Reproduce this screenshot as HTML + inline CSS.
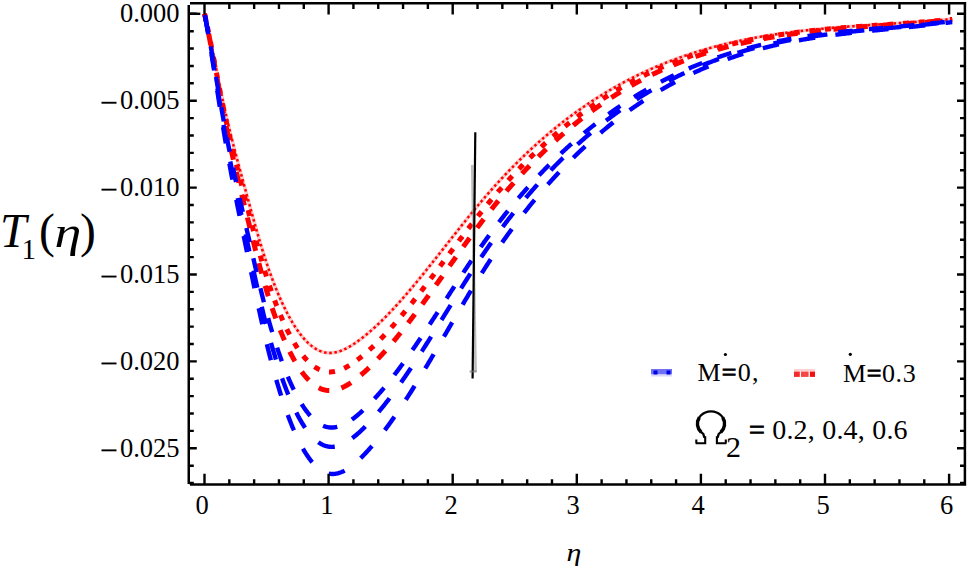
<!DOCTYPE html>
<html><head><meta charset="utf-8"><style>
html,body{margin:0;padding:0;background:#fff;}
svg{display:block;}
.t{font-family:"Liberation Serif",serif;font-size:26.5px;fill:#000;}
.s{font-family:"Liberation Serif",serif;fill:#000;}
</style></head><body>
<svg width="968" height="570" viewBox="0 0 968 570">
<rect width="968" height="570" fill="#fff"/>
<defs><filter id="bl" x="-5%" y="-5%" width="110%" height="110%"><feGaussianBlur stdDeviation="0.45"/></filter></defs>
<g id="curves" filter="url(#bl)">
<path d="M204.50,13.80 205.12,16.10 205.74,18.76 206.36,21.48 206.98,24.23 207.60,27.03 208.22,29.87 208.84,32.74 209.46,35.64 210.08,38.58 210.71,41.54 211.33,44.53 211.95,47.54 212.57,50.56 213.19,53.60 213.81,56.65 214.43,59.71 215.05,62.78 215.67,65.85 216.29,68.92 216.91,71.99 217.53,75.05 218.15,78.10 218.77,81.14 219.39,84.17 220.01,87.17 220.63,90.16 221.25,93.12 221.87,96.06 222.49,98.96 223.12,101.84 223.74,104.67 224.36,107.48 224.98,110.25 225.60,112.99 226.22,115.69 226.84,118.37 227.46,121.02 228.08,123.64 228.70,126.24 229.32,128.80 229.94,131.35 230.56,133.87 231.18,136.37 231.80,138.84 232.42,141.30 233.04,143.73 233.66,146.15 234.28,148.55 234.90,150.94 235.53,153.30 236.15,155.66 236.77,158.00 237.39,160.33 238.01,162.65 238.63,164.96 239.25,167.26 239.87,169.55 240.49,171.83 241.11,174.11 241.73,176.39 242.35,178.66 242.97,180.93 243.59,183.19 244.21,185.46 244.83,187.73 245.45,189.99 246.07,192.27 246.69,194.54 247.31,196.81 247.94,199.08 248.56,201.36 249.18,203.63 249.80,205.90 250.42,208.16 251.04,210.42 251.66,212.67 252.28,214.92 252.90,217.16 253.52,219.40 254.14,221.62 254.76,223.83 255.38,226.04 256.00,228.23 256.62,230.41 257.24,232.57 257.86,234.72 258.48,236.86 259.10,238.98 259.72,241.08 260.35,243.16 260.97,245.23 261.59,247.27 262.21,249.30 262.83,251.30 263.45,253.28 264.07,255.24 264.69,257.17 265.31,259.08 265.93,260.97 266.55,262.83 267.17,264.67 267.79,266.49 268.41,268.29 269.03,270.06 269.65,271.82 270.27,273.55 270.89,275.26 271.51,276.95 272.13,278.62 272.75,280.26 273.38,281.89 274.00,283.50 274.62,285.08 275.24,286.65 275.86,288.20 276.48,289.72 277.10,291.23 277.72,292.72 278.34,294.19 278.96,295.64 279.58,297.07 280.20,298.49 280.82,299.88 281.44,301.25 282.06,302.61 282.68,303.95 283.30,305.26 283.92,306.56 284.54,307.84 285.16,309.11 285.79,310.35 286.41,311.57 287.03,312.78 287.65,313.97 288.27,315.14 288.89,316.29 289.51,317.42 290.13,318.53 290.75,319.63 291.37,320.70 291.99,321.76 292.61,322.80 293.23,323.82 293.85,324.83 294.47,325.81 295.09,326.78 295.71,327.73 296.33,328.66 296.95,329.57 297.57,330.46 298.20,331.34 298.82,332.20 299.44,333.04 300.06,333.86 300.68,334.67 301.30,335.45 301.92,336.22 302.54,336.97 303.16,337.71 303.78,338.42 304.40,339.12 305.02,339.80 305.64,340.46 306.26,341.11 306.88,341.73 307.50,342.34 308.12,342.94 308.74,343.51 309.36,344.07 309.99,344.61 310.61,345.13 311.23,345.64 311.85,346.12 312.47,346.60 313.09,347.05 313.71,347.49 314.33,347.90 314.95,348.31 315.57,348.69 316.19,349.06 316.81,349.41 317.43,349.74 318.05,350.06 318.67,350.36 319.29,350.64 319.91,350.91 320.53,351.16 321.15,351.39 321.77,351.61 322.39,351.81 323.02,351.99 323.64,352.15 324.26,352.30 324.88,352.43 325.50,352.55 326.12,352.65 326.74,352.73 327.36,352.80 327.98,352.85 328.60,352.89 329.22,352.91 329.84,352.92 330.46,352.91 331.08,352.89 331.70,352.85 332.32,352.80 332.94,352.74 333.56,352.66 334.18,352.57 334.81,352.47 335.43,352.35 336.05,352.22 336.67,352.08 337.29,351.92 337.91,351.75 338.53,351.57 339.15,351.38 339.77,351.18 340.39,350.97 341.01,350.74 341.63,350.51 342.25,350.26 342.87,350.00 343.49,349.74 344.11,349.46 344.73,349.17 345.35,348.88 345.97,348.57 346.59,348.25 347.22,347.93 347.84,347.60 348.46,347.26 349.08,346.91 349.70,346.55 350.32,346.18 350.94,345.81 351.56,345.43 352.18,345.04 352.80,344.65 353.42,344.24 354.04,343.83 354.66,343.42 355.28,343.00 355.90,342.57 356.52,342.14 357.14,341.70 357.76,341.25 358.38,340.81 359.00,340.35 359.62,339.89 360.25,339.43 360.87,338.96 361.49,338.49 362.11,338.01 362.73,337.53 363.35,337.04 363.97,336.55 364.59,336.05 365.21,335.55 365.83,335.05 366.45,334.54 367.07,334.03 367.69,333.51 368.31,332.99 368.93,332.46 369.55,331.93 370.17,331.40 370.79,330.86 371.41,330.32 372.03,329.77 372.66,329.22 373.28,328.67 373.90,328.11 374.52,327.55 375.14,326.98 375.76,326.41 376.38,325.84 377.00,325.26 377.62,324.68 378.24,324.09 378.86,323.50 379.48,322.91 380.10,322.31 380.72,321.71 381.34,321.11 381.96,320.50 382.58,319.89 383.20,319.28 383.82,318.66 384.44,318.04 385.07,317.42 385.69,316.79 386.31,316.16 386.93,315.53 387.55,314.89 388.17,314.25 388.79,313.60 389.41,312.96 390.03,312.31 390.65,311.66 391.27,311.00 391.89,310.34 392.51,309.68 393.13,309.02 393.75,308.35 394.37,307.68 394.99,307.01 395.61,306.33 396.23,305.65 396.86,304.97 397.48,304.29 398.10,303.60 398.72,302.91 399.34,302.22 399.96,301.52 400.58,300.83 401.20,300.13 401.82,299.43 402.44,298.72 403.06,298.02 403.68,297.31 404.30,296.60 404.92,295.88 405.54,295.17 406.16,294.45 406.78,293.73 407.40,293.01 408.02,292.28 408.64,291.56 409.26,290.83 409.89,290.10 410.51,289.37 411.13,288.63 411.75,287.90 412.37,287.16 412.99,286.42 413.61,285.68 414.23,284.93 414.85,284.19 415.47,283.44 416.09,282.69 416.71,281.94 417.33,281.19 417.95,280.44 418.57,279.68 419.19,278.93 419.81,278.17 420.43,277.41 421.05,276.65 421.67,275.89 422.30,275.13 422.92,274.36 423.54,273.60 424.16,272.83 424.78,272.06 425.40,271.29 426.02,270.52 426.64,269.75 427.26,268.98 427.88,268.20 428.50,267.43 429.12,266.65 429.74,265.88 430.36,265.10 430.98,264.32 431.60,263.54 432.22,262.76 432.84,261.98 433.46,261.20 434.09,260.42 434.71,259.63 435.33,258.85 435.95,258.07 436.57,257.28 437.19,256.50 437.81,255.71 438.43,254.93 439.05,254.14 439.67,253.35 440.29,252.57 440.91,251.78 441.53,250.99 442.15,250.20 442.77,249.42 443.39,248.63 444.01,247.84 444.63,247.05 445.25,246.26 445.87,245.47 446.50,244.69 447.12,243.90 447.74,243.11 448.36,242.32 448.98,241.53 449.60,240.74 450.22,239.96 450.84,239.17 451.46,238.38 452.08,237.59 452.70,236.81 453.32,236.02 453.94,235.23 454.56,234.45 455.18,233.66 455.80,232.88 456.42,232.09 457.04,231.31 457.66,230.53 458.28,229.74 458.90,228.96 459.53,228.18 460.15,227.40 460.77,226.62 461.39,225.84 462.01,225.06 462.63,224.29 463.25,223.51 463.87,222.74 464.49,221.96 465.11,221.19 465.73,220.42 466.35,219.65 466.97,218.88 467.59,218.11 468.21,217.34 468.83,216.57 469.45,215.81 470.07,215.04 470.69,214.28 471.31,213.52 471.94,212.76 472.56,212.00 473.18,211.24 473.80,210.49 474.42,209.73 475.04,208.98 475.66,208.23 476.28,207.48 476.90,206.73 477.52,205.99 478.14,205.24 478.76,204.50 479.38,203.76 480.00,203.02 480.62,202.28 481.24,201.55 481.86,200.81 482.48,200.08 483.10,199.35 483.72,198.62 484.35,197.90 484.97,197.17 485.59,196.45 486.21,195.73 486.83,195.02 487.45,194.30 488.07,193.59 488.69,192.88 489.31,192.17 489.93,191.46 490.55,190.76 491.17,190.06 491.79,189.36 492.41,188.66 493.03,187.96 493.65,187.27 494.27,186.58 494.89,185.89 495.51,185.20 496.13,184.51 496.76,183.83 497.38,183.15 498.00,182.47 498.62,181.79 499.24,181.11 499.86,180.44 500.48,179.77 501.10,179.10 501.72,178.43 502.34,177.77 502.96,177.10 503.58,176.44 504.20,175.78 504.82,175.12 505.44,174.47 506.06,173.82 506.68,173.16 507.30,172.52 507.92,171.87 508.55,171.22 509.17,170.58 509.79,169.94 510.41,169.30 511.03,168.66 511.65,168.03 512.27,167.39 512.89,166.76 513.51,166.13 514.13,165.50 514.75,164.88 515.37,164.25 515.99,163.63 516.61,163.01 517.23,162.40 517.85,161.78 518.47,161.17 519.09,160.55 519.71,159.94 520.33,159.34 520.96,158.73 521.58,158.12 522.20,157.52 522.82,156.92 523.44,156.32 524.06,155.73 524.68,155.13 525.30,154.54 525.92,153.95 526.54,153.36 527.16,152.77 527.78,152.19 528.40,151.60 529.02,151.02 529.64,150.44 530.26,149.87 530.88,149.29 531.50,148.72 532.12,148.14 532.74,147.57 533.37,147.00 533.99,146.44 534.61,145.87 535.23,145.31 535.85,144.75 536.47,144.19 537.09,143.63 537.71,143.08 538.33,142.52 538.95,141.97 539.57,141.42 540.19,140.87 540.81,140.33 541.43,139.78 542.05,139.24 542.67,138.70 543.29,138.16 543.91,137.62 544.53,137.09 545.15,136.55 545.77,136.02 546.40,135.49 547.02,134.96 547.64,134.44 548.26,133.91 548.88,133.39 549.50,132.87 550.12,132.35 550.74,131.83 551.36,131.32 551.98,130.80 552.60,130.29 553.22,129.78 553.84,129.27 554.46,128.76 555.08,128.26 555.70,127.75 556.32,127.25 556.94,126.75 557.56,126.25 558.18,125.76 558.81,125.26 559.43,124.77 560.05,124.28 560.67,123.79 561.29,123.30 561.91,122.81 562.53,122.33 563.15,121.85 563.77,121.36 564.39,120.88 565.01,120.41 565.63,119.93 566.25,119.46 566.87,118.98 567.49,118.51 568.11,118.04 568.73,117.57 569.35,117.11 569.97,116.64 570.60,116.18 571.22,115.72 571.84,115.26 572.46,114.80 573.08,114.35 573.70,113.89 574.32,113.44 574.94,112.99 575.56,112.54 576.18,112.09 576.80,111.64 577.42,111.20 578.04,110.75 578.66,110.31 579.28,109.87 579.90,109.43 580.52,109.00 581.14,108.56 581.76,108.13 582.38,107.70 583.00,107.27 583.63,106.84 584.25,106.41 584.87,105.98 585.49,105.56 586.11,105.14 586.73,104.72 587.35,104.30 587.97,103.88 588.59,103.46 589.21,103.05 589.83,102.64 590.45,102.23 591.07,101.82 591.69,101.41 592.31,101.00 592.93,100.59 593.55,100.19 594.17,99.79 594.79,99.39 595.41,98.99 596.04,98.59 596.66,98.19 597.28,97.80 597.90,97.41 598.52,97.02 599.14,96.63 599.76,96.24 600.38,95.85 601.00,95.46 601.62,95.08 602.24,94.70 602.86,94.32 603.48,93.94 604.10,93.56 604.72,93.18 605.34,92.81 605.96,92.43 606.58,92.06 607.20,91.69 607.83,91.32 608.45,90.95 609.07,90.59 609.69,90.22 610.31,89.86 610.93,89.50 611.55,89.13 612.17,88.78 612.79,88.42 613.41,88.06 614.03,87.71 614.65,87.35 615.27,87.00 615.89,86.65 616.51,86.30 617.13,85.95 617.75,85.61 618.37,85.26 618.99,84.92 619.61,84.58 620.24,84.24 620.86,83.90 621.48,83.56 622.10,83.22 622.72,82.89 623.34,82.55 623.96,82.22 624.58,81.89 625.20,81.56 625.82,81.23 626.44,80.90 627.06,80.58 627.68,80.25 628.30,79.93 628.92,79.61 629.54,79.29 630.16,78.97 630.78,78.65 631.40,78.34 632.02,78.02 632.64,77.71 633.27,77.40 633.89,77.09 634.51,76.78 635.13,76.47 635.75,76.16 636.37,75.86 636.99,75.55 637.61,75.25 638.23,74.95 638.85,74.65 639.47,74.35 640.09,74.05 640.71,73.75 641.33,73.46 641.95,73.16 642.57,72.87 643.19,72.58 643.81,72.29 644.43,72.00 645.06,71.71 645.68,71.43 646.30,71.14 646.92,70.86 647.54,70.58 648.16,70.30 648.78,70.02 649.40,69.74 650.02,69.46 650.64,69.18 651.26,68.91 651.88,68.63 652.50,68.36 653.12,68.09 653.74,67.82 654.36,67.55 654.98,67.28 655.60,67.02 656.22,66.75 656.84,66.49 657.46,66.22 658.09,65.96 658.71,65.70 659.33,65.44 659.95,65.18 660.57,64.93 661.19,64.67 661.81,64.42 662.43,64.16 663.05,63.91 663.67,63.66 664.29,63.41 664.91,63.16 665.53,62.92 666.15,62.67 666.77,62.42 667.39,62.18 668.01,61.94 668.63,61.70 669.25,61.45 669.88,61.21 670.50,60.98 671.12,60.74 671.74,60.50 672.36,60.27 672.98,60.03 673.60,59.80 674.22,59.57 674.84,59.34 675.46,59.11 676.08,58.88 676.70,58.65 677.32,58.43 677.94,58.20 678.56,57.98 679.18,57.76 679.80,57.54 680.42,57.31 681.04,57.10 681.66,56.88 682.28,56.66 682.91,56.44 683.53,56.23 684.15,56.01 684.77,55.80 685.39,55.59 686.01,55.38 686.63,55.17 687.25,54.96 687.87,54.75 688.49,54.54 689.11,54.34 689.73,54.13 690.35,53.93 690.97,53.73 691.59,53.53 692.21,53.32 692.83,53.12 693.45,52.93 694.07,52.73 694.69,52.53 695.32,52.34 695.94,52.14 696.56,51.95 697.18,51.76 697.80,51.56 698.42,51.37 699.04,51.18 699.66,50.99 700.28,50.81 700.90,50.62 701.52,50.43 702.14,50.25 702.76,50.07 703.38,49.88 704.00,49.70 704.62,49.52 705.24,49.34 705.86,49.16 706.48,48.98 707.11,48.81 707.73,48.63 708.35,48.45 708.97,48.28 709.59,48.11 710.21,47.93 710.83,47.76 711.45,47.59 712.07,47.42 712.69,47.25 713.31,47.09 713.93,46.92 714.55,46.75 715.17,46.59 715.79,46.42 716.41,46.26 717.03,46.10 717.65,45.94 718.27,45.78 718.89,45.62 719.51,45.46 720.14,45.30 720.76,45.14 721.38,44.99 722.00,44.83 722.62,44.68 723.24,44.52 723.86,44.37 724.48,44.22 725.10,44.07 725.72,43.92 726.34,43.77 726.96,43.62 727.58,43.47 728.20,43.32 728.82,43.18 729.44,43.03 730.06,42.89 730.68,42.74 731.30,42.60 731.92,42.46 732.55,42.32 733.17,42.18 733.79,42.04 734.41,41.90 735.03,41.76 735.65,41.62 736.27,41.49 736.89,41.35 737.51,41.22 738.13,41.08 738.75,40.95 739.37,40.82 739.99,40.68 740.61,40.55 741.23,40.42 741.85,40.29 742.47,40.16 743.09,40.04 743.71,39.91 744.34,39.78 744.96,39.66 745.58,39.53 746.20,39.41 746.82,39.28 747.44,39.16 748.06,39.04 748.68,38.92 749.30,38.80 749.92,38.68 750.54,38.56 751.16,38.44 751.78,38.32 752.40,38.21 753.02,38.09 753.64,37.97 754.26,37.86 754.88,37.74 755.50,37.63 756.12,37.52 756.75,37.41 757.37,37.29 757.99,37.18 758.61,37.07 759.23,36.96 759.85,36.86 760.47,36.75 761.09,36.64 761.71,36.53 762.33,36.43 762.95,36.32 763.57,36.22 764.19,36.11 764.81,36.01 765.43,35.91 766.05,35.80 766.67,35.70 767.29,35.60 767.91,35.50 768.53,35.40 769.15,35.30 769.78,35.20 770.40,35.11 771.02,35.01 771.64,34.91 772.26,34.82 772.88,34.72 773.50,34.62 774.12,34.53 774.74,34.44 775.36,34.34 775.98,34.25 776.60,34.16 777.22,34.07 777.84,33.98 778.46,33.89 779.08,33.80 779.70,33.71 780.32,33.62 780.94,33.53 781.57,33.44 782.19,33.36 782.81,33.27 783.43,33.18 784.05,33.10 784.67,33.01 785.29,32.93 785.91,32.85 786.53,32.76 787.15,32.68 787.77,32.60 788.39,32.52 789.01,32.44 789.63,32.36 790.25,32.28 790.87,32.20 791.49,32.12 792.11,32.04 792.73,31.96 793.35,31.88 793.98,31.81 794.60,31.73 795.22,31.65 795.84,31.58 796.46,31.50 797.08,31.43 797.70,31.35 798.32,31.28 798.94,31.21 799.56,31.13 800.18,31.06 800.80,30.99 801.42,30.92 802.04,30.85 802.66,30.78 803.28,30.71 803.90,30.64 804.52,30.57 805.14,30.50 805.76,30.43 806.38,30.36 807.01,30.30 807.63,30.23 808.25,30.16 808.87,30.10 809.49,30.03 810.11,29.96 810.73,29.90 811.35,29.83 811.97,29.77 812.59,29.71 813.21,29.64 813.83,29.58 814.45,29.52 815.07,29.45 815.69,29.39 816.31,29.33 816.93,29.27 817.55,29.21 818.17,29.15 818.79,29.09 819.42,29.03 820.04,28.97 820.66,28.91 821.28,28.85 821.90,28.79 822.52,28.74 823.14,28.68 823.76,28.62 824.38,28.56 825.00,28.51 825.62,28.45 826.24,28.39 826.86,28.34 827.48,28.28 828.10,28.23 828.72,28.17 829.34,28.12 829.96,28.06 830.58,28.01 831.20,27.96 831.83,27.90 832.45,27.85 833.07,27.80 833.69,27.75 834.31,27.69 834.93,27.64 835.55,27.59 836.17,27.54 836.79,27.49 837.41,27.44 838.03,27.39 838.65,27.34 839.27,27.29 839.89,27.24 840.51,27.19 841.13,27.14 841.75,27.09 842.37,27.04 842.99,26.99 843.62,26.94 844.24,26.89 844.86,26.85 845.48,26.80 846.10,26.75 846.72,26.70 847.34,26.66 847.96,26.61 848.58,26.56 849.20,26.52 849.82,26.47 850.44,26.42 851.06,26.38 851.68,26.33 852.30,26.29 852.92,26.24 853.54,26.20 854.16,26.15 854.78,26.11 855.40,26.06 856.02,26.02 856.65,25.97 857.27,25.93 857.89,25.88 858.51,25.84 859.13,25.80 859.75,25.75 860.37,25.71 860.99,25.67 861.61,25.62 862.23,25.58 862.85,25.54 863.47,25.49 864.09,25.45 864.71,25.41 865.33,25.37 865.95,25.33 866.57,25.28 867.19,25.24 867.81,25.20 868.44,25.16 869.06,25.12 869.68,25.07 870.30,25.03 870.92,24.99 871.54,24.95 872.16,24.91 872.78,24.87 873.40,24.83 874.02,24.78 874.64,24.74 875.26,24.70 875.88,24.66 876.50,24.62 877.12,24.58 877.74,24.54 878.36,24.50 878.98,24.46 879.60,24.42 880.22,24.38 880.85,24.34 881.47,24.30 882.09,24.26 882.71,24.22 883.33,24.17 883.95,24.13 884.57,24.09 885.19,24.05 885.81,24.01 886.43,23.97 887.05,23.93 887.67,23.89 888.29,23.85 888.91,23.81 889.53,23.77 890.15,23.73 890.77,23.69 891.39,23.65 892.01,23.61 892.63,23.57 893.25,23.53 893.88,23.49 894.50,23.45 895.12,23.41 895.74,23.37 896.36,23.33 896.98,23.28 897.60,23.24 898.22,23.20 898.84,23.16 899.46,23.12 900.08,23.08 900.70,23.04 901.32,23.00 901.94,22.96 902.56,22.92 903.18,22.87 903.80,22.83 904.42,22.79 905.04,22.75 905.66,22.71 906.29,22.67 906.91,22.62 907.53,22.58 908.15,22.54 908.77,22.50 909.39,22.45 910.01,22.41 910.63,22.37 911.25,22.33 911.87,22.28 912.49,22.24 913.11,22.20 913.73,22.15 914.35,22.11 914.97,22.07 915.59,22.02 916.21,21.98 916.83,21.94 917.45,21.89 918.07,21.85 918.70,21.80 919.32,21.76 919.94,21.71 920.56,21.67 921.18,21.62 921.80,21.58 922.42,21.53 923.04,21.49 923.66,21.44 924.28,21.39 924.90,21.35 925.52,21.30 926.14,21.26 926.76,21.21 927.38,21.16 928.00,21.11 928.62,21.07 929.24,21.02 929.86,20.97 930.49,20.92 931.11,20.87 931.73,20.83 932.35,20.78 932.97,20.73 933.59,20.68 934.21,20.63 934.83,20.58 935.45,20.53 936.07,20.48 936.69,20.43 937.31,20.38 937.93,20.33 938.55,20.27 939.17,20.22 939.79,20.17 940.41,20.12 941.03,20.07 941.65,20.01 942.27,19.96 942.89,19.91 943.52,19.85 944.14,19.80 944.76,19.75 945.38,19.69 946.00,19.64 946.62,19.58 947.24,19.53 947.86,19.47 948.48,19.41 949.10,19.36 949.72,19.30 950.34,19.24 950.96,19.19 951.58,19.13 952.20,19.07" fill="none" stroke="#ff0000" stroke-opacity="0.22" stroke-width="3.6"/>
<path d="M204.50,13.80 205.12,16.10 205.74,18.76 206.36,21.48 206.98,24.23 207.60,27.03 208.22,29.87 208.84,32.74 209.46,35.64 210.08,38.58 210.71,41.54 211.33,44.53 211.95,47.54 212.57,50.56 213.19,53.60 213.81,56.65 214.43,59.71 215.05,62.78 215.67,65.85 216.29,68.92 216.91,71.99 217.53,75.05 218.15,78.10 218.77,81.14 219.39,84.17 220.01,87.17 220.63,90.16 221.25,93.12 221.87,96.06 222.49,98.96 223.12,101.84 223.74,104.67 224.36,107.48 224.98,110.25 225.60,112.99 226.22,115.69 226.84,118.37 227.46,121.02 228.08,123.64 228.70,126.24 229.32,128.80 229.94,131.35 230.56,133.87 231.18,136.37 231.80,138.84 232.42,141.30 233.04,143.73 233.66,146.15 234.28,148.55 234.90,150.94 235.53,153.30 236.15,155.66 236.77,158.00 237.39,160.33 238.01,162.65 238.63,164.96 239.25,167.26 239.87,169.55 240.49,171.83 241.11,174.11 241.73,176.39 242.35,178.66 242.97,180.93 243.59,183.19 244.21,185.46 244.83,187.73 245.45,189.99 246.07,192.27 246.69,194.54 247.31,196.81 247.94,199.08 248.56,201.36 249.18,203.63 249.80,205.90 250.42,208.16 251.04,210.42 251.66,212.67 252.28,214.92 252.90,217.16 253.52,219.40 254.14,221.62 254.76,223.83 255.38,226.04 256.00,228.23 256.62,230.41 257.24,232.57 257.86,234.72 258.48,236.86 259.10,238.98 259.72,241.08 260.35,243.16 260.97,245.23 261.59,247.27 262.21,249.30 262.83,251.30 263.45,253.28 264.07,255.24 264.69,257.17 265.31,259.08 265.93,260.97 266.55,262.83 267.17,264.67 267.79,266.49 268.41,268.29 269.03,270.06 269.65,271.82 270.27,273.55 270.89,275.26 271.51,276.95 272.13,278.62 272.75,280.26 273.38,281.89 274.00,283.50 274.62,285.08 275.24,286.65 275.86,288.20 276.48,289.72 277.10,291.23 277.72,292.72 278.34,294.19 278.96,295.64 279.58,297.07 280.20,298.49 280.82,299.88 281.44,301.25 282.06,302.61 282.68,303.95 283.30,305.26 283.92,306.56 284.54,307.84 285.16,309.11 285.79,310.35 286.41,311.57 287.03,312.78 287.65,313.97 288.27,315.14 288.89,316.29 289.51,317.42 290.13,318.53 290.75,319.63 291.37,320.70 291.99,321.76 292.61,322.80 293.23,323.82 293.85,324.83 294.47,325.81 295.09,326.78 295.71,327.73 296.33,328.66 296.95,329.57 297.57,330.46 298.20,331.34 298.82,332.20 299.44,333.04 300.06,333.86 300.68,334.67 301.30,335.45 301.92,336.22 302.54,336.97 303.16,337.71 303.78,338.42 304.40,339.12 305.02,339.80 305.64,340.46 306.26,341.11 306.88,341.73 307.50,342.34 308.12,342.94 308.74,343.51 309.36,344.07 309.99,344.61 310.61,345.13 311.23,345.64 311.85,346.12 312.47,346.60 313.09,347.05 313.71,347.49 314.33,347.90 314.95,348.31 315.57,348.69 316.19,349.06 316.81,349.41 317.43,349.74 318.05,350.06 318.67,350.36 319.29,350.64 319.91,350.91 320.53,351.16 321.15,351.39 321.77,351.61 322.39,351.81 323.02,351.99 323.64,352.15 324.26,352.30 324.88,352.43 325.50,352.55 326.12,352.65 326.74,352.73 327.36,352.80 327.98,352.85 328.60,352.89 329.22,352.91 329.84,352.92 330.46,352.91 331.08,352.89 331.70,352.85 332.32,352.80 332.94,352.74 333.56,352.66 334.18,352.57 334.81,352.47 335.43,352.35 336.05,352.22 336.67,352.08 337.29,351.92 337.91,351.75 338.53,351.57 339.15,351.38 339.77,351.18 340.39,350.97 341.01,350.74 341.63,350.51 342.25,350.26 342.87,350.00 343.49,349.74 344.11,349.46 344.73,349.17 345.35,348.88 345.97,348.57 346.59,348.25 347.22,347.93 347.84,347.60 348.46,347.26 349.08,346.91 349.70,346.55 350.32,346.18 350.94,345.81 351.56,345.43 352.18,345.04 352.80,344.65 353.42,344.24 354.04,343.83 354.66,343.42 355.28,343.00 355.90,342.57 356.52,342.14 357.14,341.70 357.76,341.25 358.38,340.81 359.00,340.35 359.62,339.89 360.25,339.43 360.87,338.96 361.49,338.49 362.11,338.01 362.73,337.53 363.35,337.04 363.97,336.55 364.59,336.05 365.21,335.55 365.83,335.05 366.45,334.54 367.07,334.03 367.69,333.51 368.31,332.99 368.93,332.46 369.55,331.93 370.17,331.40 370.79,330.86 371.41,330.32 372.03,329.77 372.66,329.22 373.28,328.67 373.90,328.11 374.52,327.55 375.14,326.98 375.76,326.41 376.38,325.84 377.00,325.26 377.62,324.68 378.24,324.09 378.86,323.50 379.48,322.91 380.10,322.31 380.72,321.71 381.34,321.11 381.96,320.50 382.58,319.89 383.20,319.28 383.82,318.66 384.44,318.04 385.07,317.42 385.69,316.79 386.31,316.16 386.93,315.53 387.55,314.89 388.17,314.25 388.79,313.60 389.41,312.96 390.03,312.31 390.65,311.66 391.27,311.00 391.89,310.34 392.51,309.68 393.13,309.02 393.75,308.35 394.37,307.68 394.99,307.01 395.61,306.33 396.23,305.65 396.86,304.97 397.48,304.29 398.10,303.60 398.72,302.91 399.34,302.22 399.96,301.52 400.58,300.83 401.20,300.13 401.82,299.43 402.44,298.72 403.06,298.02 403.68,297.31 404.30,296.60 404.92,295.88 405.54,295.17 406.16,294.45 406.78,293.73 407.40,293.01 408.02,292.28 408.64,291.56 409.26,290.83 409.89,290.10 410.51,289.37 411.13,288.63 411.75,287.90 412.37,287.16 412.99,286.42 413.61,285.68 414.23,284.93 414.85,284.19 415.47,283.44 416.09,282.69 416.71,281.94 417.33,281.19 417.95,280.44 418.57,279.68 419.19,278.93 419.81,278.17 420.43,277.41 421.05,276.65 421.67,275.89 422.30,275.13 422.92,274.36 423.54,273.60 424.16,272.83 424.78,272.06 425.40,271.29 426.02,270.52 426.64,269.75 427.26,268.98 427.88,268.20 428.50,267.43 429.12,266.65 429.74,265.88 430.36,265.10 430.98,264.32 431.60,263.54 432.22,262.76 432.84,261.98 433.46,261.20 434.09,260.42 434.71,259.63 435.33,258.85 435.95,258.07 436.57,257.28 437.19,256.50 437.81,255.71 438.43,254.93 439.05,254.14 439.67,253.35 440.29,252.57 440.91,251.78 441.53,250.99 442.15,250.20 442.77,249.42 443.39,248.63 444.01,247.84 444.63,247.05 445.25,246.26 445.87,245.47 446.50,244.69 447.12,243.90 447.74,243.11 448.36,242.32 448.98,241.53 449.60,240.74 450.22,239.96 450.84,239.17 451.46,238.38 452.08,237.59 452.70,236.81 453.32,236.02 453.94,235.23 454.56,234.45 455.18,233.66 455.80,232.88 456.42,232.09 457.04,231.31 457.66,230.53 458.28,229.74 458.90,228.96 459.53,228.18 460.15,227.40 460.77,226.62 461.39,225.84 462.01,225.06 462.63,224.29 463.25,223.51 463.87,222.74 464.49,221.96 465.11,221.19 465.73,220.42 466.35,219.65 466.97,218.88 467.59,218.11 468.21,217.34 468.83,216.57 469.45,215.81 470.07,215.04 470.69,214.28 471.31,213.52 471.94,212.76 472.56,212.00 473.18,211.24 473.80,210.49 474.42,209.73 475.04,208.98 475.66,208.23 476.28,207.48 476.90,206.73 477.52,205.99 478.14,205.24 478.76,204.50 479.38,203.76 480.00,203.02 480.62,202.28 481.24,201.55 481.86,200.81 482.48,200.08 483.10,199.35 483.72,198.62 484.35,197.90 484.97,197.17 485.59,196.45 486.21,195.73 486.83,195.02 487.45,194.30 488.07,193.59 488.69,192.88 489.31,192.17 489.93,191.46 490.55,190.76 491.17,190.06 491.79,189.36 492.41,188.66 493.03,187.96 493.65,187.27 494.27,186.58 494.89,185.89 495.51,185.20 496.13,184.51 496.76,183.83 497.38,183.15 498.00,182.47 498.62,181.79 499.24,181.11 499.86,180.44 500.48,179.77 501.10,179.10 501.72,178.43 502.34,177.77 502.96,177.10 503.58,176.44 504.20,175.78 504.82,175.12 505.44,174.47 506.06,173.82 506.68,173.16 507.30,172.52 507.92,171.87 508.55,171.22 509.17,170.58 509.79,169.94 510.41,169.30 511.03,168.66 511.65,168.03 512.27,167.39 512.89,166.76 513.51,166.13 514.13,165.50 514.75,164.88 515.37,164.25 515.99,163.63 516.61,163.01 517.23,162.40 517.85,161.78 518.47,161.17 519.09,160.55 519.71,159.94 520.33,159.34 520.96,158.73 521.58,158.12 522.20,157.52 522.82,156.92 523.44,156.32 524.06,155.73 524.68,155.13 525.30,154.54 525.92,153.95 526.54,153.36 527.16,152.77 527.78,152.19 528.40,151.60 529.02,151.02 529.64,150.44 530.26,149.87 530.88,149.29 531.50,148.72 532.12,148.14 532.74,147.57 533.37,147.00 533.99,146.44 534.61,145.87 535.23,145.31 535.85,144.75 536.47,144.19 537.09,143.63 537.71,143.08 538.33,142.52 538.95,141.97 539.57,141.42 540.19,140.87 540.81,140.33 541.43,139.78 542.05,139.24 542.67,138.70 543.29,138.16 543.91,137.62 544.53,137.09 545.15,136.55 545.77,136.02 546.40,135.49 547.02,134.96 547.64,134.44 548.26,133.91 548.88,133.39 549.50,132.87 550.12,132.35 550.74,131.83 551.36,131.32 551.98,130.80 552.60,130.29 553.22,129.78 553.84,129.27 554.46,128.76 555.08,128.26 555.70,127.75 556.32,127.25 556.94,126.75 557.56,126.25 558.18,125.76 558.81,125.26 559.43,124.77 560.05,124.28 560.67,123.79 561.29,123.30 561.91,122.81 562.53,122.33 563.15,121.85 563.77,121.36 564.39,120.88 565.01,120.41 565.63,119.93 566.25,119.46 566.87,118.98 567.49,118.51 568.11,118.04 568.73,117.57 569.35,117.11 569.97,116.64 570.60,116.18 571.22,115.72 571.84,115.26 572.46,114.80 573.08,114.35 573.70,113.89 574.32,113.44 574.94,112.99 575.56,112.54 576.18,112.09 576.80,111.64 577.42,111.20 578.04,110.75 578.66,110.31 579.28,109.87 579.90,109.43 580.52,109.00 581.14,108.56 581.76,108.13 582.38,107.70 583.00,107.27 583.63,106.84 584.25,106.41 584.87,105.98 585.49,105.56 586.11,105.14 586.73,104.72 587.35,104.30 587.97,103.88 588.59,103.46 589.21,103.05 589.83,102.64 590.45,102.23 591.07,101.82 591.69,101.41 592.31,101.00 592.93,100.59 593.55,100.19 594.17,99.79 594.79,99.39 595.41,98.99 596.04,98.59 596.66,98.19 597.28,97.80 597.90,97.41 598.52,97.02 599.14,96.63 599.76,96.24 600.38,95.85 601.00,95.46 601.62,95.08 602.24,94.70 602.86,94.32 603.48,93.94 604.10,93.56 604.72,93.18 605.34,92.81 605.96,92.43 606.58,92.06 607.20,91.69 607.83,91.32 608.45,90.95 609.07,90.59 609.69,90.22 610.31,89.86 610.93,89.50 611.55,89.13 612.17,88.78 612.79,88.42 613.41,88.06 614.03,87.71 614.65,87.35 615.27,87.00 615.89,86.65 616.51,86.30 617.13,85.95 617.75,85.61 618.37,85.26 618.99,84.92 619.61,84.58 620.24,84.24 620.86,83.90 621.48,83.56 622.10,83.22 622.72,82.89 623.34,82.55 623.96,82.22 624.58,81.89 625.20,81.56 625.82,81.23 626.44,80.90 627.06,80.58 627.68,80.25 628.30,79.93 628.92,79.61 629.54,79.29 630.16,78.97 630.78,78.65 631.40,78.34 632.02,78.02 632.64,77.71 633.27,77.40 633.89,77.09 634.51,76.78 635.13,76.47 635.75,76.16 636.37,75.86 636.99,75.55 637.61,75.25 638.23,74.95 638.85,74.65 639.47,74.35 640.09,74.05 640.71,73.75 641.33,73.46 641.95,73.16 642.57,72.87 643.19,72.58 643.81,72.29 644.43,72.00 645.06,71.71 645.68,71.43 646.30,71.14 646.92,70.86 647.54,70.58 648.16,70.30 648.78,70.02 649.40,69.74 650.02,69.46 650.64,69.18 651.26,68.91 651.88,68.63 652.50,68.36 653.12,68.09 653.74,67.82 654.36,67.55 654.98,67.28 655.60,67.02 656.22,66.75 656.84,66.49 657.46,66.22 658.09,65.96 658.71,65.70 659.33,65.44 659.95,65.18 660.57,64.93 661.19,64.67 661.81,64.42 662.43,64.16 663.05,63.91 663.67,63.66 664.29,63.41 664.91,63.16 665.53,62.92 666.15,62.67 666.77,62.42 667.39,62.18 668.01,61.94 668.63,61.70 669.25,61.45 669.88,61.21 670.50,60.98 671.12,60.74 671.74,60.50 672.36,60.27 672.98,60.03 673.60,59.80 674.22,59.57 674.84,59.34 675.46,59.11 676.08,58.88 676.70,58.65 677.32,58.43 677.94,58.20 678.56,57.98 679.18,57.76 679.80,57.54 680.42,57.31 681.04,57.10 681.66,56.88 682.28,56.66 682.91,56.44 683.53,56.23 684.15,56.01 684.77,55.80 685.39,55.59 686.01,55.38 686.63,55.17 687.25,54.96 687.87,54.75 688.49,54.54 689.11,54.34 689.73,54.13 690.35,53.93 690.97,53.73 691.59,53.53 692.21,53.32 692.83,53.12 693.45,52.93 694.07,52.73 694.69,52.53 695.32,52.34 695.94,52.14 696.56,51.95 697.18,51.76 697.80,51.56 698.42,51.37 699.04,51.18 699.66,50.99 700.28,50.81 700.90,50.62 701.52,50.43 702.14,50.25 702.76,50.07 703.38,49.88 704.00,49.70 704.62,49.52 705.24,49.34 705.86,49.16 706.48,48.98 707.11,48.81 707.73,48.63 708.35,48.45 708.97,48.28 709.59,48.11 710.21,47.93 710.83,47.76 711.45,47.59 712.07,47.42 712.69,47.25 713.31,47.09 713.93,46.92 714.55,46.75 715.17,46.59 715.79,46.42 716.41,46.26 717.03,46.10 717.65,45.94 718.27,45.78 718.89,45.62 719.51,45.46 720.14,45.30 720.76,45.14 721.38,44.99 722.00,44.83 722.62,44.68 723.24,44.52 723.86,44.37 724.48,44.22 725.10,44.07 725.72,43.92 726.34,43.77 726.96,43.62 727.58,43.47 728.20,43.32 728.82,43.18 729.44,43.03 730.06,42.89 730.68,42.74 731.30,42.60 731.92,42.46 732.55,42.32 733.17,42.18 733.79,42.04 734.41,41.90 735.03,41.76 735.65,41.62 736.27,41.49 736.89,41.35 737.51,41.22 738.13,41.08 738.75,40.95 739.37,40.82 739.99,40.68 740.61,40.55 741.23,40.42 741.85,40.29 742.47,40.16 743.09,40.04 743.71,39.91 744.34,39.78 744.96,39.66 745.58,39.53 746.20,39.41 746.82,39.28 747.44,39.16 748.06,39.04 748.68,38.92 749.30,38.80 749.92,38.68 750.54,38.56 751.16,38.44 751.78,38.32 752.40,38.21 753.02,38.09 753.64,37.97 754.26,37.86 754.88,37.74 755.50,37.63 756.12,37.52 756.75,37.41 757.37,37.29 757.99,37.18 758.61,37.07 759.23,36.96 759.85,36.86 760.47,36.75 761.09,36.64 761.71,36.53 762.33,36.43 762.95,36.32 763.57,36.22 764.19,36.11 764.81,36.01 765.43,35.91 766.05,35.80 766.67,35.70 767.29,35.60 767.91,35.50 768.53,35.40 769.15,35.30 769.78,35.20 770.40,35.11 771.02,35.01 771.64,34.91 772.26,34.82 772.88,34.72 773.50,34.62 774.12,34.53 774.74,34.44 775.36,34.34 775.98,34.25 776.60,34.16 777.22,34.07 777.84,33.98 778.46,33.89 779.08,33.80 779.70,33.71 780.32,33.62 780.94,33.53 781.57,33.44 782.19,33.36 782.81,33.27 783.43,33.18 784.05,33.10 784.67,33.01 785.29,32.93 785.91,32.85 786.53,32.76 787.15,32.68 787.77,32.60 788.39,32.52 789.01,32.44 789.63,32.36 790.25,32.28 790.87,32.20 791.49,32.12 792.11,32.04 792.73,31.96 793.35,31.88 793.98,31.81 794.60,31.73 795.22,31.65 795.84,31.58 796.46,31.50 797.08,31.43 797.70,31.35 798.32,31.28 798.94,31.21 799.56,31.13 800.18,31.06 800.80,30.99 801.42,30.92 802.04,30.85 802.66,30.78 803.28,30.71 803.90,30.64 804.52,30.57 805.14,30.50 805.76,30.43 806.38,30.36 807.01,30.30 807.63,30.23 808.25,30.16 808.87,30.10 809.49,30.03 810.11,29.96 810.73,29.90 811.35,29.83 811.97,29.77 812.59,29.71 813.21,29.64 813.83,29.58 814.45,29.52 815.07,29.45 815.69,29.39 816.31,29.33 816.93,29.27 817.55,29.21 818.17,29.15 818.79,29.09 819.42,29.03 820.04,28.97 820.66,28.91 821.28,28.85 821.90,28.79 822.52,28.74 823.14,28.68 823.76,28.62 824.38,28.56 825.00,28.51 825.62,28.45 826.24,28.39 826.86,28.34 827.48,28.28 828.10,28.23 828.72,28.17 829.34,28.12 829.96,28.06 830.58,28.01 831.20,27.96 831.83,27.90 832.45,27.85 833.07,27.80 833.69,27.75 834.31,27.69 834.93,27.64 835.55,27.59 836.17,27.54 836.79,27.49 837.41,27.44 838.03,27.39 838.65,27.34 839.27,27.29 839.89,27.24 840.51,27.19 841.13,27.14 841.75,27.09 842.37,27.04 842.99,26.99 843.62,26.94 844.24,26.89 844.86,26.85 845.48,26.80 846.10,26.75 846.72,26.70 847.34,26.66 847.96,26.61 848.58,26.56 849.20,26.52 849.82,26.47 850.44,26.42 851.06,26.38 851.68,26.33 852.30,26.29 852.92,26.24 853.54,26.20 854.16,26.15 854.78,26.11 855.40,26.06 856.02,26.02 856.65,25.97 857.27,25.93 857.89,25.88 858.51,25.84 859.13,25.80 859.75,25.75 860.37,25.71 860.99,25.67 861.61,25.62 862.23,25.58 862.85,25.54 863.47,25.49 864.09,25.45 864.71,25.41 865.33,25.37 865.95,25.33 866.57,25.28 867.19,25.24 867.81,25.20 868.44,25.16 869.06,25.12 869.68,25.07 870.30,25.03 870.92,24.99 871.54,24.95 872.16,24.91 872.78,24.87 873.40,24.83 874.02,24.78 874.64,24.74 875.26,24.70 875.88,24.66 876.50,24.62 877.12,24.58 877.74,24.54 878.36,24.50 878.98,24.46 879.60,24.42 880.22,24.38 880.85,24.34 881.47,24.30 882.09,24.26 882.71,24.22 883.33,24.17 883.95,24.13 884.57,24.09 885.19,24.05 885.81,24.01 886.43,23.97 887.05,23.93 887.67,23.89 888.29,23.85 888.91,23.81 889.53,23.77 890.15,23.73 890.77,23.69 891.39,23.65 892.01,23.61 892.63,23.57 893.25,23.53 893.88,23.49 894.50,23.45 895.12,23.41 895.74,23.37 896.36,23.33 896.98,23.28 897.60,23.24 898.22,23.20 898.84,23.16 899.46,23.12 900.08,23.08 900.70,23.04 901.32,23.00 901.94,22.96 902.56,22.92 903.18,22.87 903.80,22.83 904.42,22.79 905.04,22.75 905.66,22.71 906.29,22.67 906.91,22.62 907.53,22.58 908.15,22.54 908.77,22.50 909.39,22.45 910.01,22.41 910.63,22.37 911.25,22.33 911.87,22.28 912.49,22.24 913.11,22.20 913.73,22.15 914.35,22.11 914.97,22.07 915.59,22.02 916.21,21.98 916.83,21.94 917.45,21.89 918.07,21.85 918.70,21.80 919.32,21.76 919.94,21.71 920.56,21.67 921.18,21.62 921.80,21.58 922.42,21.53 923.04,21.49 923.66,21.44 924.28,21.39 924.90,21.35 925.52,21.30 926.14,21.26 926.76,21.21 927.38,21.16 928.00,21.11 928.62,21.07 929.24,21.02 929.86,20.97 930.49,20.92 931.11,20.87 931.73,20.83 932.35,20.78 932.97,20.73 933.59,20.68 934.21,20.63 934.83,20.58 935.45,20.53 936.07,20.48 936.69,20.43 937.31,20.38 937.93,20.33 938.55,20.27 939.17,20.22 939.79,20.17 940.41,20.12 941.03,20.07 941.65,20.01 942.27,19.96 942.89,19.91 943.52,19.85 944.14,19.80 944.76,19.75 945.38,19.69 946.00,19.64 946.62,19.58 947.24,19.53 947.86,19.47 948.48,19.41 949.10,19.36 949.72,19.30 950.34,19.24 950.96,19.19 951.58,19.13 952.20,19.07" fill="none" stroke="#ff0000" stroke-width="2.5" stroke-dasharray="2.50 2.68" stroke-dashoffset="1.25"/>
<path d="M204.50,13.80 205.12,16.23 205.74,19.04 206.36,21.91 206.98,24.82 207.60,27.77 208.22,30.77 208.84,33.80 209.46,36.87 210.08,39.97 210.71,43.10 211.33,46.25 211.95,49.43 212.57,52.62 213.19,55.83 213.81,59.05 214.43,62.29 215.05,65.52 215.67,68.77 216.29,72.01 216.91,75.25 217.53,78.48 218.15,81.70 218.77,84.91 219.39,88.11 220.01,91.28 220.63,94.44 221.25,97.57 221.87,100.66 222.49,103.73 223.12,106.77 223.74,109.76 224.36,112.72 224.98,115.65 225.60,118.54 226.22,121.40 226.84,124.23 227.46,127.02 228.08,129.79 228.70,132.53 229.32,135.24 229.94,137.93 230.56,140.59 231.18,143.23 231.80,145.84 232.42,148.44 233.04,151.01 233.66,153.56 234.28,156.10 234.90,158.62 235.53,161.12 236.15,163.60 236.77,166.08 237.39,168.54 238.01,170.99 238.63,173.42 239.25,175.85 239.87,178.27 240.49,180.68 241.11,183.09 241.73,185.49 242.35,187.89 242.97,190.29 243.59,192.68 244.21,195.07 244.83,197.47 245.45,199.86 246.07,202.26 246.69,204.66 247.31,207.06 247.94,209.46 248.56,211.86 249.18,214.26 249.80,216.65 250.42,219.04 251.04,221.43 251.66,223.81 252.28,226.19 252.90,228.55 253.52,230.91 254.14,233.26 254.76,235.60 255.38,237.92 256.00,240.24 256.62,242.54 257.24,244.82 257.86,247.10 258.48,249.35 259.10,251.59 259.72,253.81 260.35,256.01 260.97,258.19 261.59,260.35 262.21,262.49 262.83,264.60 263.45,266.69 264.07,268.76 264.69,270.80 265.31,272.82 265.93,274.81 266.55,276.78 267.17,278.72 267.79,280.64 268.41,282.54 269.03,284.41 269.65,286.27 270.27,288.09 270.89,289.90 271.51,291.68 272.13,293.45 272.75,295.19 273.38,296.90 274.00,298.60 274.62,300.27 275.24,301.93 275.86,303.56 276.48,305.18 277.10,306.77 277.72,308.34 278.34,309.89 278.96,311.42 279.58,312.94 280.20,314.43 280.82,315.90 281.44,317.35 282.06,318.78 282.68,320.19 283.30,321.59 283.92,322.96 284.54,324.31 285.16,325.64 285.79,326.96 286.41,328.25 287.03,329.52 287.65,330.78 288.27,332.01 288.89,333.23 289.51,334.42 290.13,335.60 290.75,336.75 291.37,337.89 291.99,339.01 292.61,340.11 293.23,341.18 293.85,342.24 294.47,343.28 295.09,344.30 295.71,345.31 296.33,346.29 296.95,347.25 297.57,348.20 298.20,349.12 298.82,350.03 299.44,350.92 300.06,351.79 300.68,352.63 301.30,353.47 301.92,354.28 302.54,355.07 303.16,355.84 303.78,356.60 304.40,357.34 305.02,358.06 305.64,358.76 306.26,359.44 306.88,360.10 307.50,360.74 308.12,361.37 308.74,361.98 309.36,362.56 309.99,363.13 310.61,363.69 311.23,364.22 311.85,364.74 312.47,365.23 313.09,365.71 313.71,366.17 314.33,366.61 314.95,367.04 315.57,367.45 316.19,367.83 316.81,368.20 317.43,368.56 318.05,368.89 318.67,369.21 319.29,369.51 319.91,369.79 320.53,370.05 321.15,370.30 321.77,370.52 322.39,370.73 323.02,370.93 323.64,371.10 324.26,371.26 324.88,371.40 325.50,371.52 326.12,371.63 326.74,371.71 327.36,371.79 327.98,371.84 328.60,371.88 329.22,371.90 329.84,371.91 330.46,371.90 331.08,371.88 331.70,371.84 332.32,371.79 332.94,371.72 333.56,371.64 334.18,371.54 334.81,371.43 335.43,371.31 336.05,371.17 336.67,371.02 337.29,370.86 337.91,370.68 338.53,370.49 339.15,370.29 339.77,370.07 340.39,369.85 341.01,369.61 341.63,369.36 342.25,369.10 342.87,368.83 343.49,368.55 344.11,368.26 344.73,367.95 345.35,367.64 345.97,367.32 346.59,366.98 347.22,366.64 347.84,366.29 348.46,365.93 349.08,365.56 349.70,365.18 350.32,364.80 350.94,364.40 351.56,364.00 352.18,363.59 352.80,363.17 353.42,362.75 354.04,362.32 354.66,361.88 355.28,361.43 355.90,360.98 356.52,360.52 357.14,360.06 357.76,359.59 358.38,359.12 359.00,358.64 359.62,358.15 360.25,357.66 360.87,357.17 361.49,356.67 362.11,356.17 362.73,355.66 363.35,355.14 363.97,354.62 364.59,354.10 365.21,353.57 365.83,353.04 366.45,352.50 367.07,351.96 367.69,351.41 368.31,350.86 368.93,350.31 369.55,349.75 370.17,349.18 370.79,348.62 371.41,348.04 372.03,347.47 372.66,346.88 373.28,346.30 373.90,345.71 374.52,345.12 375.14,344.52 375.76,343.92 376.38,343.31 377.00,342.70 377.62,342.08 378.24,341.47 378.86,340.84 379.48,340.22 380.10,339.59 380.72,338.96 381.34,338.32 381.96,337.68 382.58,337.03 383.20,336.39 383.82,335.73 384.44,335.08 385.07,334.42 385.69,333.76 386.31,333.09 386.93,332.42 387.55,331.75 388.17,331.07 388.79,330.39 389.41,329.71 390.03,329.03 390.65,328.34 391.27,327.64 391.89,326.95 392.51,326.25 393.13,325.55 393.75,324.84 394.37,324.14 394.99,323.43 395.61,322.71 396.23,321.99 396.86,321.28 397.48,320.55 398.10,319.83 398.72,319.10 399.34,318.37 399.96,317.64 400.58,316.90 401.20,316.16 401.82,315.42 402.44,314.68 403.06,313.93 403.68,313.18 404.30,312.43 404.92,311.68 405.54,310.92 406.16,310.17 406.78,309.41 407.40,308.64 408.02,307.88 408.64,307.11 409.26,306.34 409.89,305.57 410.51,304.80 411.13,304.02 411.75,303.25 412.37,302.47 412.99,301.69 413.61,300.90 414.23,300.12 414.85,299.33 415.47,298.54 416.09,297.75 416.71,296.96 417.33,296.17 417.95,295.37 418.57,294.57 419.19,293.77 419.81,292.97 420.43,292.17 421.05,291.37 421.67,290.57 422.30,289.76 422.92,288.95 423.54,288.14 424.16,287.33 424.78,286.52 425.40,285.71 426.02,284.90 426.64,284.08 427.26,283.27 427.88,282.45 428.50,281.63 429.12,280.81 429.74,279.99 430.36,279.17 430.98,278.35 431.60,277.53 432.22,276.70 432.84,275.88 433.46,275.05 434.09,274.23 434.71,273.40 435.33,272.57 435.95,271.75 436.57,270.92 437.19,270.09 437.81,269.26 438.43,268.43 439.05,267.60 439.67,266.77 440.29,265.94 440.91,265.11 441.53,264.27 442.15,263.44 442.77,262.61 443.39,261.78 444.01,260.95 444.63,260.11 445.25,259.28 445.87,258.45 446.50,257.61 447.12,256.78 447.74,255.95 448.36,255.12 448.98,254.28 449.60,253.45 450.22,252.62 450.84,251.79 451.46,250.96 452.08,250.13 452.70,249.29 453.32,248.46 453.94,247.63 454.56,246.80 455.18,245.97 455.80,245.15 456.42,244.32 457.04,243.49 457.66,242.66 458.28,241.84 458.90,241.01 459.53,240.19 460.15,239.36 460.77,238.54 461.39,237.72 462.01,236.90 462.63,236.08 463.25,235.26 463.87,234.44 464.49,233.62 465.11,232.80 465.73,231.99 466.35,231.17 466.97,230.36 467.59,229.55 468.21,228.74 468.83,227.93 469.45,227.12 470.07,226.31 470.69,225.51 471.31,224.70 471.94,223.90 472.56,223.10 473.18,222.30 473.80,221.50 474.42,220.71 475.04,219.91 475.66,219.12 476.28,218.33 476.90,217.54 477.52,216.75 478.14,215.96 478.76,215.18 479.38,214.40 480.00,213.61 480.62,212.84 481.24,212.06 481.86,211.29 482.48,210.51 483.10,209.74 483.72,208.97 484.35,208.21 484.97,207.44 485.59,206.68 486.21,205.92 486.83,205.17 487.45,204.41 488.07,203.66 488.69,202.91 489.31,202.16 489.93,201.41 490.55,200.67 491.17,199.93 491.79,199.19 492.41,198.45 493.03,197.71 493.65,196.98 494.27,196.25 494.89,195.52 495.51,194.80 496.13,194.07 496.76,193.35 497.38,192.63 498.00,191.91 498.62,191.20 499.24,190.48 499.86,189.77 500.48,189.06 501.10,188.36 501.72,187.65 502.34,186.95 502.96,186.25 503.58,185.55 504.20,184.85 504.82,184.16 505.44,183.47 506.06,182.78 506.68,182.09 507.30,181.40 507.92,180.72 508.55,180.04 509.17,179.36 509.79,178.68 510.41,178.01 511.03,177.33 511.65,176.66 512.27,175.99 512.89,175.33 513.51,174.66 514.13,174.00 514.75,173.34 515.37,172.68 515.99,172.02 516.61,171.37 517.23,170.72 517.85,170.07 518.47,169.42 519.09,168.77 519.71,168.13 520.33,167.49 520.96,166.85 521.58,166.21 522.20,165.57 522.82,164.94 523.44,164.30 524.06,163.67 524.68,163.05 525.30,162.42 525.92,161.80 526.54,161.17 527.16,160.55 527.78,159.94 528.40,159.32 529.02,158.71 529.64,158.09 530.26,157.48 530.88,156.88 531.50,156.27 532.12,155.67 532.74,155.06 533.37,154.46 533.99,153.87 534.61,153.27 535.23,152.68 535.85,152.08 536.47,151.49 537.09,150.90 537.71,150.32 538.33,149.73 538.95,149.15 539.57,148.57 540.19,147.99 540.81,147.41 541.43,146.84 542.05,146.27 542.67,145.69 543.29,145.13 543.91,144.56 544.53,143.99 545.15,143.43 545.77,142.87 546.40,142.31 547.02,141.75 547.64,141.19 548.26,140.64 548.88,140.09 549.50,139.54 550.12,138.99 550.74,138.44 551.36,137.90 551.98,137.35 552.60,136.81 553.22,136.27 553.84,135.74 554.46,135.20 555.08,134.67 555.70,134.14 556.32,133.61 556.94,133.08 557.56,132.55 558.18,132.03 558.81,131.50 559.43,130.98 560.05,130.46 560.67,129.95 561.29,129.43 561.91,128.92 562.53,128.41 563.15,127.90 563.77,127.39 564.39,126.88 565.01,126.38 565.63,125.87 566.25,125.37 566.87,124.87 567.49,124.38 568.11,123.88 568.73,123.39 569.35,122.89 569.97,122.40 570.60,121.91 571.22,121.43 571.84,120.94 572.46,120.46 573.08,119.98 573.70,119.50 574.32,119.02 574.94,118.54 575.56,118.07 576.18,117.59 576.80,117.12 577.42,116.65 578.04,116.18 578.66,115.72 579.28,115.25 579.90,114.79 580.52,114.33 581.14,113.87 581.76,113.41 582.38,112.96 583.00,112.50 583.63,112.05 584.25,111.60 584.87,111.15 585.49,110.70 586.11,110.25 586.73,109.81 587.35,109.37 587.97,108.93 588.59,108.49 589.21,108.05 589.83,107.61 590.45,107.18 591.07,106.74 591.69,106.31 592.31,105.88 592.93,105.46 593.55,105.03 594.17,104.60 594.79,104.18 595.41,103.76 596.04,103.34 596.66,102.92 597.28,102.50 597.90,102.09 598.52,101.68 599.14,101.26 599.76,100.85 600.38,100.44 601.00,100.04 601.62,99.63 602.24,99.23 602.86,98.83 603.48,98.42 604.10,98.02 604.72,97.63 605.34,97.23 605.96,96.84 606.58,96.44 607.20,96.05 607.83,95.66 608.45,95.27 609.07,94.89 609.69,94.50 610.31,94.12 610.93,93.73 611.55,93.35 612.17,92.97 612.79,92.60 613.41,92.22 614.03,91.85 614.65,91.47 615.27,91.10 615.89,90.73 616.51,90.36 617.13,89.99 617.75,89.63 618.37,89.26 618.99,88.90 619.61,88.54 620.24,88.18 620.86,87.82 621.48,87.46 622.10,87.11 622.72,86.76 623.34,86.40 623.96,86.05 624.58,85.70 625.20,85.35 625.82,85.01 626.44,84.66 627.06,84.32 627.68,83.98 628.30,83.63 628.92,83.30 629.54,82.96 630.16,82.62 630.78,82.29 631.40,81.95 632.02,81.62 632.64,81.29 633.27,80.96 633.89,80.63 634.51,80.30 635.13,79.98 635.75,79.65 636.37,79.33 636.99,79.01 637.61,78.69 638.23,78.37 638.85,78.05 639.47,77.74 640.09,77.42 640.71,77.11 641.33,76.80 641.95,76.49 642.57,76.18 643.19,75.87 643.81,75.57 644.43,75.26 645.06,74.96 645.68,74.65 646.30,74.35 646.92,74.05 647.54,73.76 648.16,73.46 648.78,73.16 649.40,72.87 650.02,72.58 650.64,72.28 651.26,71.99 651.88,71.70 652.50,71.42 653.12,71.13 653.74,70.84 654.36,70.56 654.98,70.28 655.60,70.00 656.22,69.72 656.84,69.44 657.46,69.16 658.09,68.88 658.71,68.61 659.33,68.34 659.95,68.06 660.57,67.79 661.19,67.52 661.81,67.25 662.43,66.98 663.05,66.72 663.67,66.45 664.29,66.19 664.91,65.93 665.53,65.67 666.15,65.41 666.77,65.15 667.39,64.89 668.01,64.63 668.63,64.38 669.25,64.12 669.88,63.87 670.50,63.62 671.12,63.37 671.74,63.12 672.36,62.87 672.98,62.62 673.60,62.38 674.22,62.13 674.84,61.89 675.46,61.65 676.08,61.41 676.70,61.17 677.32,60.93 677.94,60.69 678.56,60.45 679.18,60.22 679.80,59.98 680.42,59.75 681.04,59.52 681.66,59.29 682.28,59.06 682.91,58.83 683.53,58.60 684.15,58.38 684.77,58.15 685.39,57.93 686.01,57.71 686.63,57.48 687.25,57.26 687.87,57.04 688.49,56.83 689.11,56.61 689.73,56.39 690.35,56.18 690.97,55.96 691.59,55.75 692.21,55.54 692.83,55.33 693.45,55.12 694.07,54.91 694.69,54.70 695.32,54.49 695.94,54.29 696.56,54.08 697.18,53.88 697.80,53.68 698.42,53.48 699.04,53.28 699.66,53.08 700.28,52.88 700.90,52.68 701.52,52.49 702.14,52.29 702.76,52.10 703.38,51.90 704.00,51.71 704.62,51.52 705.24,51.33 705.86,51.14 706.48,50.95 707.11,50.77 707.73,50.58 708.35,50.40 708.97,50.21 709.59,50.03 710.21,49.85 710.83,49.67 711.45,49.49 712.07,49.31 712.69,49.13 713.31,48.95 713.93,48.77 714.55,48.60 715.17,48.42 715.79,48.25 716.41,48.08 717.03,47.91 717.65,47.74 718.27,47.57 718.89,47.40 719.51,47.23 720.14,47.06 720.76,46.90 721.38,46.73 722.00,46.57 722.62,46.40 723.24,46.24 723.86,46.08 724.48,45.92 725.10,45.76 725.72,45.60 726.34,45.44 726.96,45.29 727.58,45.13 728.20,44.98 728.82,44.82 729.44,44.67 730.06,44.52 730.68,44.36 731.30,44.21 731.92,44.06 732.55,43.91 733.17,43.77 733.79,43.62 734.41,43.47 735.03,43.33 735.65,43.18 736.27,43.04 736.89,42.89 737.51,42.75 738.13,42.61 738.75,42.47 739.37,42.33 739.99,42.19 740.61,42.05 741.23,41.91 741.85,41.78 742.47,41.64 743.09,41.51 743.71,41.37 744.34,41.24 744.96,41.11 745.58,40.97 746.20,40.84 746.82,40.71 747.44,40.58 748.06,40.45 748.68,40.32 749.30,40.20 749.92,40.07 750.54,39.95 751.16,39.82 751.78,39.70 752.40,39.57 753.02,39.45 753.64,39.33 754.26,39.21 754.88,39.09 755.50,38.97 756.12,38.85 756.75,38.73 757.37,38.61 757.99,38.49 758.61,38.38 759.23,38.26 759.85,38.15 760.47,38.03 761.09,37.92 761.71,37.81 762.33,37.69 762.95,37.58 763.57,37.47 764.19,37.36 764.81,37.25 765.43,37.14 766.05,37.04 766.67,36.93 767.29,36.82 767.91,36.72 768.53,36.61 769.15,36.51 769.78,36.40 770.40,36.30 771.02,36.20 771.64,36.09 772.26,35.99 772.88,35.89 773.50,35.79 774.12,35.69 774.74,35.59 775.36,35.49 775.98,35.40 776.60,35.30 777.22,35.20 777.84,35.11 778.46,35.01 779.08,34.92 779.70,34.82 780.32,34.73 780.94,34.64 781.57,34.54 782.19,34.45 782.81,34.36 783.43,34.27 784.05,34.18 784.67,34.09 785.29,34.00 785.91,33.91 786.53,33.83 787.15,33.74 787.77,33.65 788.39,33.57 789.01,33.48 789.63,33.39 790.25,33.31 790.87,33.23 791.49,33.14 792.11,33.06 792.73,32.98 793.35,32.90 793.98,32.81 794.60,32.73 795.22,32.65 795.84,32.57 796.46,32.49 797.08,32.42 797.70,32.34 798.32,32.26 798.94,32.18 799.56,32.10 800.18,32.03 800.80,31.95 801.42,31.88 802.04,31.80 802.66,31.73 803.28,31.65 803.90,31.58 804.52,31.51 805.14,31.43 805.76,31.36 806.38,31.29 807.01,31.22 807.63,31.15 808.25,31.08 808.87,31.01 809.49,30.94 810.11,30.87 810.73,30.80 811.35,30.73 811.97,30.66 812.59,30.60 813.21,30.53 813.83,30.46 814.45,30.40 815.07,30.33 815.69,30.27 816.31,30.20 816.93,30.14 817.55,30.07 818.17,30.01 818.79,29.94 819.42,29.88 820.04,29.82 820.66,29.76 821.28,29.69 821.90,29.63 822.52,29.57 823.14,29.51 823.76,29.45 824.38,29.39 825.00,29.33 825.62,29.27 826.24,29.21 826.86,29.15 827.48,29.09 828.10,29.04 828.72,28.98 829.34,28.92 829.96,28.86 830.58,28.81 831.20,28.75 831.83,28.69 832.45,28.64 833.07,28.58 833.69,28.53 834.31,28.47 834.93,28.42 835.55,28.36 836.17,28.31 836.79,28.25 837.41,28.20 838.03,28.15 838.65,28.09 839.27,28.04 839.89,27.99 840.51,27.94 841.13,27.88 841.75,27.83 842.37,27.78 842.99,27.73 843.62,27.68 844.24,27.63 844.86,27.58 845.48,27.53 846.10,27.48 846.72,27.43 847.34,27.38 847.96,27.33 848.58,27.28 849.20,27.23 849.82,27.18 850.44,27.13 851.06,27.08 851.68,27.03 852.30,26.99 852.92,26.94 853.54,26.89 854.16,26.84 854.78,26.80 855.40,26.75 856.02,26.70 856.65,26.65 857.27,26.61 857.89,26.56 858.51,26.51 859.13,26.47 859.75,26.42 860.37,26.38 860.99,26.33 861.61,26.29 862.23,26.24 862.85,26.20 863.47,26.15 864.09,26.10 864.71,26.06 865.33,26.02 865.95,25.97 866.57,25.93 867.19,25.88 867.81,25.84 868.44,25.79 869.06,25.75 869.68,25.71 870.30,25.66 870.92,25.62 871.54,25.57 872.16,25.53 872.78,25.49 873.40,25.44 874.02,25.40 874.64,25.36 875.26,25.31 875.88,25.27 876.50,25.23 877.12,25.18 877.74,25.14 878.36,25.10 878.98,25.05 879.60,25.01 880.22,24.97 880.85,24.93 881.47,24.88 882.09,24.84 882.71,24.80 883.33,24.76 883.95,24.71 884.57,24.67 885.19,24.63 885.81,24.59 886.43,24.54 887.05,24.50 887.67,24.46 888.29,24.41 888.91,24.37 889.53,24.33 890.15,24.29 890.77,24.24 891.39,24.20 892.01,24.16 892.63,24.12 893.25,24.07 893.88,24.03 894.50,23.99 895.12,23.94 895.74,23.90 896.36,23.86 896.98,23.82 897.60,23.77 898.22,23.73 898.84,23.69 899.46,23.64 900.08,23.60 900.70,23.56 901.32,23.51 901.94,23.47 902.56,23.43 903.18,23.38 903.80,23.34 904.42,23.29 905.04,23.25 905.66,23.21 906.29,23.16 906.91,23.12 907.53,23.07 908.15,23.03 908.77,22.98 909.39,22.94 910.01,22.89 910.63,22.85 911.25,22.80 911.87,22.76 912.49,22.71 913.11,22.67 913.73,22.62 914.35,22.58 914.97,22.53 915.59,22.48 916.21,22.44 916.83,22.39 917.45,22.35 918.07,22.30 918.70,22.25 919.32,22.20 919.94,22.16 920.56,22.11 921.18,22.06 921.80,22.01 922.42,21.97 923.04,21.92 923.66,21.87 924.28,21.82 924.90,21.77 925.52,21.72 926.14,21.67 926.76,21.62 927.38,21.57 928.00,21.52 928.62,21.47 929.24,21.42 929.86,21.37 930.49,21.32 931.11,21.27 931.73,21.22 932.35,21.17 932.97,21.12 933.59,21.06 934.21,21.01 934.83,20.96 935.45,20.91 936.07,20.85 936.69,20.80 937.31,20.75 937.93,20.69 938.55,20.64 939.17,20.58 939.79,20.53 940.41,20.47 941.03,20.42 941.65,20.36 942.27,20.31 942.89,20.25 943.52,20.19 944.14,20.14 944.76,20.08 945.38,20.02 946.00,19.96 946.62,19.90 947.24,19.85 947.86,19.79 948.48,19.73 949.10,19.67 949.72,19.61 950.34,19.55 950.96,19.49 951.58,19.43 952.20,19.37" fill="none" stroke="#ff0000" stroke-width="5.0" stroke-dasharray="6.00 9.67" stroke-dashoffset="2.45"/>
<path d="M204.50,13.80 205.12,16.36 205.74,19.32 206.36,22.33 206.98,25.39 207.60,28.50 208.22,31.65 208.84,34.84 209.46,38.07 210.08,41.33 210.71,44.62 211.33,47.94 211.95,51.28 212.57,54.64 213.19,58.02 213.81,61.41 214.43,64.81 215.05,68.22 215.67,71.63 216.29,75.04 216.91,78.45 217.53,81.85 218.15,85.24 218.77,88.62 219.39,91.98 220.01,95.32 220.63,98.64 221.25,101.93 221.87,105.19 222.49,108.42 223.12,111.61 223.74,114.76 224.36,117.88 224.98,120.95 225.60,124.00 226.22,127.00 226.84,129.98 227.46,132.92 228.08,135.83 228.70,138.72 229.32,141.57 229.94,144.40 230.56,147.20 231.18,149.97 231.80,152.72 232.42,155.45 233.04,158.16 233.66,160.84 234.28,163.51 234.90,166.16 235.53,168.79 236.15,171.41 236.77,174.01 237.39,176.60 238.01,179.17 238.63,181.74 239.25,184.29 239.87,186.84 240.49,189.38 241.11,191.91 241.73,194.44 242.35,196.96 242.97,199.48 243.59,202.00 244.21,204.51 244.83,207.03 245.45,209.55 246.07,212.07 246.69,214.60 247.31,217.12 247.94,219.65 248.56,222.18 249.18,224.70 249.80,227.22 250.42,229.73 251.04,232.24 251.66,234.75 252.28,237.25 252.90,239.74 253.52,242.22 254.14,244.69 254.76,247.15 255.38,249.60 256.00,252.03 256.62,254.45 257.24,256.86 257.86,259.25 258.48,261.62 259.10,263.97 259.72,266.31 260.35,268.62 260.97,270.92 261.59,273.19 262.21,275.44 262.83,277.66 263.45,279.86 264.07,282.04 264.69,284.18 265.31,286.31 265.93,288.40 266.55,290.47 267.17,292.52 267.79,294.54 268.41,296.54 269.03,298.51 269.65,300.46 270.27,302.38 270.89,304.28 271.51,306.16 272.13,308.01 272.75,309.84 273.38,311.65 274.00,313.43 274.62,315.20 275.24,316.94 275.86,318.65 276.48,320.35 277.10,322.03 277.72,323.68 278.34,325.31 278.96,326.93 279.58,328.52 280.20,330.09 280.82,331.63 281.44,333.16 282.06,334.67 282.68,336.15 283.30,337.62 283.92,339.06 284.54,340.48 285.16,341.89 285.79,343.27 286.41,344.63 287.03,345.97 287.65,347.29 288.27,348.59 288.89,349.86 289.51,351.12 290.13,352.36 290.75,353.57 291.37,354.77 291.99,355.95 292.61,357.10 293.23,358.24 293.85,359.35 294.47,360.44 295.09,361.52 295.71,362.57 296.33,363.61 296.95,364.62 297.57,365.61 298.20,366.59 298.82,367.54 299.44,368.47 300.06,369.39 300.68,370.28 301.30,371.16 301.92,372.01 302.54,372.84 303.16,373.66 303.78,374.45 304.40,375.23 305.02,375.99 305.64,376.72 306.26,377.44 306.88,378.14 307.50,378.81 308.12,379.47 308.74,380.11 309.36,380.73 309.99,381.33 310.61,381.91 311.23,382.47 311.85,383.01 312.47,383.54 313.09,384.04 313.71,384.52 314.33,384.99 314.95,385.44 315.57,385.86 316.19,386.27 316.81,386.66 317.43,387.03 318.05,387.39 318.67,387.72 319.29,388.03 319.91,388.33 320.53,388.61 321.15,388.86 321.77,389.10 322.39,389.32 323.02,389.53 323.64,389.71 324.26,389.88 324.88,390.02 325.50,390.15 326.12,390.26 326.74,390.35 327.36,390.43 327.98,390.49 328.60,390.53 329.22,390.55 329.84,390.56 330.46,390.55 331.08,390.53 331.70,390.49 332.32,390.43 332.94,390.36 333.56,390.28 334.18,390.17 334.81,390.06 335.43,389.93 336.05,389.78 336.67,389.62 337.29,389.45 337.91,389.27 338.53,389.07 339.15,388.85 339.77,388.63 340.39,388.39 341.01,388.14 341.63,387.88 342.25,387.61 342.87,387.32 343.49,387.03 344.11,386.72 344.73,386.40 345.35,386.07 345.97,385.73 346.59,385.38 347.22,385.02 347.84,384.65 348.46,384.27 349.08,383.88 349.70,383.48 350.32,383.08 350.94,382.66 351.56,382.24 352.18,381.81 352.80,381.37 353.42,380.92 354.04,380.47 354.66,380.01 355.28,379.54 355.90,379.06 356.52,378.58 357.14,378.10 357.76,377.60 358.38,377.10 359.00,376.60 359.62,376.09 360.25,375.57 360.87,375.05 361.49,374.53 362.11,374.00 362.73,373.46 363.35,372.92 363.97,372.38 364.59,371.82 365.21,371.27 365.83,370.71 366.45,370.14 367.07,369.57 367.69,369.00 368.31,368.42 368.93,367.83 369.55,367.25 370.17,366.65 370.79,366.05 371.41,365.45 372.03,364.84 372.66,364.23 373.28,363.62 373.90,363.00 374.52,362.37 375.14,361.74 375.76,361.11 376.38,360.47 377.00,359.83 377.62,359.18 378.24,358.53 378.86,357.88 379.48,357.22 380.10,356.56 380.72,355.89 381.34,355.22 381.96,354.55 382.58,353.87 383.20,353.19 383.82,352.50 384.44,351.81 385.07,351.12 385.69,350.42 386.31,349.72 386.93,349.02 387.55,348.31 388.17,347.60 388.79,346.88 389.41,346.16 390.03,345.44 390.65,344.72 391.27,343.99 391.89,343.26 392.51,342.52 393.13,341.78 393.75,341.04 394.37,340.30 394.99,339.55 395.61,338.80 396.23,338.05 396.86,337.29 397.48,336.53 398.10,335.77 398.72,335.00 399.34,334.23 399.96,333.46 400.58,332.69 401.20,331.91 401.82,331.13 402.44,330.35 403.06,329.56 403.68,328.78 404.30,327.99 404.92,327.19 405.54,326.40 406.16,325.60 406.78,324.80 407.40,324.00 408.02,323.20 408.64,322.39 409.26,321.58 409.89,320.77 410.51,319.95 411.13,319.14 411.75,318.32 412.37,317.50 412.99,316.68 413.61,315.86 414.23,315.03 414.85,314.20 415.47,313.37 416.09,312.54 416.71,311.71 417.33,310.87 417.95,310.04 418.57,309.20 419.19,308.36 419.81,307.52 420.43,306.67 421.05,305.83 421.67,304.98 422.30,304.13 422.92,303.28 423.54,302.43 424.16,301.58 424.78,300.73 425.40,299.87 426.02,299.02 426.64,298.16 427.26,297.30 427.88,296.44 428.50,295.58 429.12,294.72 429.74,293.86 430.36,292.99 430.98,292.13 431.60,291.26 432.22,290.40 432.84,289.53 433.46,288.66 434.09,287.79 434.71,286.92 435.33,286.05 435.95,285.18 436.57,284.31 437.19,283.44 437.81,282.56 438.43,281.69 439.05,280.82 439.67,279.94 440.29,279.07 440.91,278.20 441.53,277.32 442.15,276.44 442.77,275.57 443.39,274.69 444.01,273.82 444.63,272.94 445.25,272.07 445.87,271.19 446.50,270.31 447.12,269.44 447.74,268.56 448.36,267.69 448.98,266.81 449.60,265.93 450.22,265.06 450.84,264.18 451.46,263.31 452.08,262.43 452.70,261.56 453.32,260.69 453.94,259.81 454.56,258.94 455.18,258.07 455.80,257.20 456.42,256.32 457.04,255.45 457.66,254.58 458.28,253.71 458.90,252.85 459.53,251.98 460.15,251.11 460.77,250.24 461.39,249.38 462.01,248.52 462.63,247.65 463.25,246.79 463.87,245.93 464.49,245.07 465.11,244.21 465.73,243.35 466.35,242.49 466.97,241.64 467.59,240.78 468.21,239.93 468.83,239.08 469.45,238.23 470.07,237.38 470.69,236.53 471.31,235.69 471.94,234.84 472.56,234.00 473.18,233.16 473.80,232.32 474.42,231.48 475.04,230.65 475.66,229.81 476.28,228.98 476.90,228.15 477.52,227.32 478.14,226.49 478.76,225.67 479.38,224.84 480.00,224.02 480.62,223.20 481.24,222.39 481.86,221.57 482.48,220.76 483.10,219.95 483.72,219.14 484.35,218.33 484.97,217.53 485.59,216.73 486.21,215.93 486.83,215.13 487.45,214.34 488.07,213.55 488.69,212.76 489.31,211.97 489.93,211.18 490.55,210.40 491.17,209.62 491.79,208.84 492.41,208.07 493.03,207.29 493.65,206.52 494.27,205.75 494.89,204.99 495.51,204.22 496.13,203.46 496.76,202.70 497.38,201.94 498.00,201.19 498.62,200.44 499.24,199.69 499.86,198.94 500.48,198.19 501.10,197.45 501.72,196.71 502.34,195.97 502.96,195.23 503.58,194.49 504.20,193.76 504.82,193.03 505.44,192.30 506.06,191.58 506.68,190.85 507.30,190.13 507.92,189.41 508.55,188.70 509.17,187.98 509.79,187.27 510.41,186.56 511.03,185.85 511.65,185.14 512.27,184.44 512.89,183.74 513.51,183.04 514.13,182.34 514.75,181.65 515.37,180.95 515.99,180.26 516.61,179.58 517.23,178.89 517.85,178.20 518.47,177.52 519.09,176.84 519.71,176.17 520.33,175.49 520.96,174.82 521.58,174.14 522.20,173.48 522.82,172.81 523.44,172.14 524.06,171.48 524.68,170.82 525.30,170.16 525.92,169.50 526.54,168.85 527.16,168.20 527.78,167.55 528.40,166.90 529.02,166.25 529.64,165.61 530.26,164.97 530.88,164.33 531.50,163.69 532.12,163.06 532.74,162.42 533.37,161.79 533.99,161.16 534.61,160.53 535.23,159.91 535.85,159.29 536.47,158.66 537.09,158.04 537.71,157.43 538.33,156.81 538.95,156.20 539.57,155.59 540.19,154.98 540.81,154.37 541.43,153.77 542.05,153.16 542.67,152.56 543.29,151.97 543.91,151.37 544.53,150.77 545.15,150.18 545.77,149.59 546.40,149.00 547.02,148.41 547.64,147.83 548.26,147.25 548.88,146.66 549.50,146.09 550.12,145.51 550.74,144.93 551.36,144.36 551.98,143.79 552.60,143.22 553.22,142.65 553.84,142.09 554.46,141.52 555.08,140.96 555.70,140.40 556.32,139.85 556.94,139.29 557.56,138.74 558.18,138.18 558.81,137.63 559.43,137.09 560.05,136.54 560.67,136.00 561.29,135.45 561.91,134.91 562.53,134.37 563.15,133.84 563.77,133.30 564.39,132.77 565.01,132.24 565.63,131.71 566.25,131.18 566.87,130.66 567.49,130.13 568.11,129.61 568.73,129.09 569.35,128.58 569.97,128.06 570.60,127.54 571.22,127.03 571.84,126.52 572.46,126.01 573.08,125.51 573.70,125.00 574.32,124.50 574.94,124.00 575.56,123.50 576.18,123.00 576.80,122.50 577.42,122.01 578.04,121.52 578.66,121.03 579.28,120.54 579.90,120.05 580.52,119.56 581.14,119.08 581.76,118.60 582.38,118.12 583.00,117.64 583.63,117.16 584.25,116.69 584.87,116.22 585.49,115.75 586.11,115.28 586.73,114.81 587.35,114.34 587.97,113.88 588.59,113.42 589.21,112.96 589.83,112.50 590.45,112.04 591.07,111.58 591.69,111.13 592.31,110.68 592.93,110.23 593.55,109.78 594.17,109.33 594.79,108.89 595.41,108.44 596.04,108.00 596.66,107.56 597.28,107.12 597.90,106.69 598.52,106.25 599.14,105.82 599.76,105.39 600.38,104.96 601.00,104.53 601.62,104.10 602.24,103.68 602.86,103.25 603.48,102.83 604.10,102.41 604.72,101.99 605.34,101.58 605.96,101.16 606.58,100.75 607.20,100.34 607.83,99.93 608.45,99.52 609.07,99.11 609.69,98.70 610.31,98.30 610.93,97.90 611.55,97.50 612.17,97.10 612.79,96.70 613.41,96.30 614.03,95.91 614.65,95.52 615.27,95.13 615.89,94.74 616.51,94.35 617.13,93.96 617.75,93.58 618.37,93.19 618.99,92.81 619.61,92.43 620.24,92.05 620.86,91.68 621.48,91.30 622.10,90.93 622.72,90.56 623.34,90.18 623.96,89.82 624.58,89.45 625.20,89.08 625.82,88.72 626.44,88.35 627.06,87.99 627.68,87.63 628.30,87.27 628.92,86.91 629.54,86.56 630.16,86.20 630.78,85.85 631.40,85.50 632.02,85.15 632.64,84.80 633.27,84.46 633.89,84.11 634.51,83.77 635.13,83.42 635.75,83.08 636.37,82.74 636.99,82.41 637.61,82.07 638.23,81.73 638.85,81.40 639.47,81.07 640.09,80.74 640.71,80.41 641.33,80.08 641.95,79.75 642.57,79.43 643.19,79.10 643.81,78.78 644.43,78.46 645.06,78.14 645.68,77.82 646.30,77.51 646.92,77.19 647.54,76.88 648.16,76.57 648.78,76.25 649.40,75.95 650.02,75.64 650.64,75.33 651.26,75.02 651.88,74.72 652.50,74.42 653.12,74.12 653.74,73.82 654.36,73.52 654.98,73.22 655.60,72.92 656.22,72.63 656.84,72.34 657.46,72.04 658.09,71.75 658.71,71.46 659.33,71.18 659.95,70.89 660.57,70.60 661.19,70.32 661.81,70.04 662.43,69.75 663.05,69.47 663.67,69.20 664.29,68.92 664.91,68.64 665.53,68.37 666.15,68.09 666.77,67.82 667.39,67.55 668.01,67.28 668.63,67.01 669.25,66.74 669.88,66.48 670.50,66.21 671.12,65.95 671.74,65.69 672.36,65.43 672.98,65.17 673.60,64.91 674.22,64.65 674.84,64.39 675.46,64.14 676.08,63.89 676.70,63.63 677.32,63.38 677.94,63.13 678.56,62.88 679.18,62.64 679.80,62.39 680.42,62.14 681.04,61.90 681.66,61.66 682.28,61.42 682.91,61.18 683.53,60.94 684.15,60.70 684.77,60.46 685.39,60.23 686.01,59.99 686.63,59.76 687.25,59.53 687.87,59.30 688.49,59.07 689.11,58.84 689.73,58.61 690.35,58.38 690.97,58.16 691.59,57.93 692.21,57.71 692.83,57.49 693.45,57.27 694.07,57.05 694.69,56.83 695.32,56.61 695.94,56.40 696.56,56.18 697.18,55.97 697.80,55.76 698.42,55.54 699.04,55.33 699.66,55.12 700.28,54.92 700.90,54.71 701.52,54.50 702.14,54.30 702.76,54.09 703.38,53.89 704.00,53.69 704.62,53.49 705.24,53.29 705.86,53.09 706.48,52.89 707.11,52.69 707.73,52.50 708.35,52.30 708.97,52.11 709.59,51.92 710.21,51.72 710.83,51.53 711.45,51.34 712.07,51.16 712.69,50.97 713.31,50.78 713.93,50.60 714.55,50.41 715.17,50.23 715.79,50.05 716.41,49.86 717.03,49.68 717.65,49.50 718.27,49.33 718.89,49.15 719.51,48.97 720.14,48.80 720.76,48.62 721.38,48.45 722.00,48.27 722.62,48.10 723.24,47.93 723.86,47.76 724.48,47.59 725.10,47.43 725.72,47.26 726.34,47.09 726.96,46.93 727.58,46.76 728.20,46.60 728.82,46.44 729.44,46.28 730.06,46.11 730.68,45.96 731.30,45.80 731.92,45.64 732.55,45.48 733.17,45.33 733.79,45.17 734.41,45.02 735.03,44.86 735.65,44.71 736.27,44.56 736.89,44.41 737.51,44.26 738.13,44.11 738.75,43.96 739.37,43.81 739.99,43.67 740.61,43.52 741.23,43.38 741.85,43.23 742.47,43.09 743.09,42.95 743.71,42.81 744.34,42.67 744.96,42.53 745.58,42.39 746.20,42.25 746.82,42.11 747.44,41.98 748.06,41.84 748.68,41.71 749.30,41.57 749.92,41.44 750.54,41.31 751.16,41.18 751.78,41.04 752.40,40.91 753.02,40.79 753.64,40.66 754.26,40.53 754.88,40.40 755.50,40.28 756.12,40.15 756.75,40.03 757.37,39.90 757.99,39.78 758.61,39.66 759.23,39.54 759.85,39.41 760.47,39.29 761.09,39.18 761.71,39.06 762.33,38.94 762.95,38.82 763.57,38.70 764.19,38.59 764.81,38.47 765.43,38.36 766.05,38.25 766.67,38.13 767.29,38.02 767.91,37.91 768.53,37.80 769.15,37.69 769.78,37.58 770.40,37.47 771.02,37.36 771.64,37.25 772.26,37.15 772.88,37.04 773.50,36.94 774.12,36.83 774.74,36.73 775.36,36.62 775.98,36.52 776.60,36.42 777.22,36.32 777.84,36.22 778.46,36.12 779.08,36.02 779.70,35.92 780.32,35.82 780.94,35.72 781.57,35.62 782.19,35.53 782.81,35.43 783.43,35.34 784.05,35.24 784.67,35.15 785.29,35.05 785.91,34.96 786.53,34.87 787.15,34.78 787.77,34.69 788.39,34.59 789.01,34.50 789.63,34.42 790.25,34.33 790.87,34.24 791.49,34.15 792.11,34.06 792.73,33.98 793.35,33.89 793.98,33.80 794.60,33.72 795.22,33.64 795.84,33.55 796.46,33.47 797.08,33.38 797.70,33.30 798.32,33.22 798.94,33.14 799.56,33.06 800.18,32.98 800.80,32.90 801.42,32.82 802.04,32.74 802.66,32.66 803.28,32.58 803.90,32.51 804.52,32.43 805.14,32.35 805.76,32.28 806.38,32.20 807.01,32.13 807.63,32.05 808.25,31.98 808.87,31.90 809.49,31.83 810.11,31.76 810.73,31.69 811.35,31.61 811.97,31.54 812.59,31.47 813.21,31.40 813.83,31.33 814.45,31.26 815.07,31.19 815.69,31.12 816.31,31.06 816.93,30.99 817.55,30.92 818.17,30.85 818.79,30.79 819.42,30.72 820.04,30.65 820.66,30.59 821.28,30.52 821.90,30.46 822.52,30.39 823.14,30.33 823.76,30.27 824.38,30.20 825.00,30.14 825.62,30.08 826.24,30.01 826.86,29.95 827.48,29.89 828.10,29.83 828.72,29.77 829.34,29.71 829.96,29.65 830.58,29.59 831.20,29.53 831.83,29.47 832.45,29.41 833.07,29.35 833.69,29.29 834.31,29.23 834.93,29.18 835.55,29.12 836.17,29.06 836.79,29.01 837.41,28.95 838.03,28.89 838.65,28.84 839.27,28.78 839.89,28.73 840.51,28.67 841.13,28.62 841.75,28.56 842.37,28.51 842.99,28.45 843.62,28.40 844.24,28.35 844.86,28.29 845.48,28.24 846.10,28.19 846.72,28.13 847.34,28.08 847.96,28.03 848.58,27.98 849.20,27.93 849.82,27.88 850.44,27.82 851.06,27.77 851.68,27.72 852.30,27.67 852.92,27.62 853.54,27.57 854.16,27.52 854.78,27.47 855.40,27.42 856.02,27.37 856.65,27.32 857.27,27.27 857.89,27.23 858.51,27.18 859.13,27.13 859.75,27.08 860.37,27.03 860.99,26.98 861.61,26.94 862.23,26.89 862.85,26.84 863.47,26.79 864.09,26.75 864.71,26.70 865.33,26.65 865.95,26.60 866.57,26.56 867.19,26.51 867.81,26.46 868.44,26.42 869.06,26.37 869.68,26.33 870.30,26.28 870.92,26.23 871.54,26.19 872.16,26.14 872.78,26.10 873.40,26.05 874.02,26.00 874.64,25.96 875.26,25.91 875.88,25.87 876.50,25.82 877.12,25.78 877.74,25.73 878.36,25.69 878.98,25.64 879.60,25.60 880.22,25.55 880.85,25.51 881.47,25.46 882.09,25.42 882.71,25.37 883.33,25.33 883.95,25.28 884.57,25.24 885.19,25.19 885.81,25.15 886.43,25.10 887.05,25.06 887.67,25.01 888.29,24.97 888.91,24.92 889.53,24.88 890.15,24.83 890.77,24.79 891.39,24.74 892.01,24.70 892.63,24.65 893.25,24.61 893.88,24.56 894.50,24.52 895.12,24.47 895.74,24.43 896.36,24.38 896.98,24.34 897.60,24.29 898.22,24.25 898.84,24.20 899.46,24.16 900.08,24.11 900.70,24.06 901.32,24.02 901.94,23.97 902.56,23.93 903.18,23.88 903.80,23.84 904.42,23.79 905.04,23.74 905.66,23.70 906.29,23.65 906.91,23.60 907.53,23.56 908.15,23.51 908.77,23.46 909.39,23.42 910.01,23.37 910.63,23.32 911.25,23.27 911.87,23.23 912.49,23.18 913.11,23.13 913.73,23.08 914.35,23.03 914.97,22.99 915.59,22.94 916.21,22.89 916.83,22.84 917.45,22.79 918.07,22.74 918.70,22.69 919.32,22.64 919.94,22.59 920.56,22.54 921.18,22.49 921.80,22.44 922.42,22.39 923.04,22.34 923.66,22.29 924.28,22.24 924.90,22.19 925.52,22.13 926.14,22.08 926.76,22.03 927.38,21.98 928.00,21.93 928.62,21.87 929.24,21.82 929.86,21.77 930.49,21.71 931.11,21.66 931.73,21.61 932.35,21.55 932.97,21.50 933.59,21.44 934.21,21.39 934.83,21.33 935.45,21.28 936.07,21.22 936.69,21.16 937.31,21.11 937.93,21.05 938.55,20.99 939.17,20.94 939.79,20.88 940.41,20.82 941.03,20.76 941.65,20.70 942.27,20.64 942.89,20.58 943.52,20.53 944.14,20.47 944.76,20.41 945.38,20.34 946.00,20.28 946.62,20.22 947.24,20.16 947.86,20.10 948.48,20.04 949.10,19.97 949.72,19.91 950.34,19.85 950.96,19.78 951.58,19.72 952.20,19.65" fill="none" stroke="#ff0000" stroke-width="5.0" stroke-dasharray="11.00 12.49" stroke-dashoffset="3.18"/>
<path d="M204.50,13.80 205.12,16.48 205.74,19.60 206.36,22.77 206.98,25.99 207.60,29.27 208.22,32.59 208.84,35.96 209.46,39.36 210.08,42.80 210.71,46.27 211.33,49.78 211.95,53.31 212.57,56.86 213.19,60.44 213.81,64.03 214.43,67.63 215.05,71.25 215.67,74.87 216.29,78.50 216.91,82.12 217.53,85.75 218.15,89.36 218.77,92.97 219.39,96.57 220.01,100.14 220.63,103.70 221.25,107.24 221.87,110.75 222.49,114.23 223.12,117.67 223.74,121.08 224.36,124.45 224.98,127.78 225.60,131.08 226.22,134.33 226.84,137.56 227.46,140.75 228.08,143.91 228.70,147.03 229.32,150.13 229.94,153.19 230.56,156.23 231.18,159.24 231.80,162.23 232.42,165.19 233.04,168.12 233.66,171.04 234.28,173.93 234.90,176.80 235.53,179.66 236.15,182.50 236.77,185.32 237.39,188.12 238.01,190.92 238.63,193.69 239.25,196.46 239.87,199.22 240.49,201.96 241.11,204.70 241.73,207.44 242.35,210.16 242.97,212.88 243.59,215.60 244.21,218.32 244.83,221.03 245.45,223.75 246.07,226.47 246.69,229.18 247.31,231.91 247.94,234.63 248.56,237.36 249.18,240.09 249.80,242.82 250.42,245.54 251.04,248.26 251.66,250.98 252.28,253.70 252.90,256.41 253.52,259.11 254.14,261.80 254.76,264.49 255.38,267.16 256.00,269.82 256.62,272.47 257.24,275.11 257.86,277.74 258.48,280.34 259.10,282.93 259.72,285.51 260.35,288.06 260.97,290.60 261.59,293.11 262.21,295.60 262.83,298.07 263.45,300.52 264.07,302.94 264.69,305.33 265.31,307.70 265.93,310.04 266.55,312.35 267.17,314.63 267.79,316.89 268.41,319.12 269.03,321.32 269.65,323.50 270.27,325.65 270.89,327.78 271.51,329.88 272.13,331.95 272.75,334.00 273.38,336.03 274.00,338.03 274.62,340.00 275.24,341.95 275.86,343.88 276.48,345.79 277.10,347.67 277.72,349.52 278.34,351.36 278.96,353.17 279.58,354.96 280.20,356.73 280.82,358.47 281.44,360.19 282.06,361.89 282.68,363.56 283.30,365.22 283.92,366.85 284.54,368.46 285.16,370.04 285.79,371.61 286.41,373.15 287.03,374.67 287.65,376.16 288.27,377.64 288.89,379.09 289.51,380.52 290.13,381.93 290.75,383.31 291.37,384.68 291.99,386.02 292.61,387.34 293.23,388.63 293.85,389.91 294.47,391.16 295.09,392.39 295.71,393.60 296.33,394.79 296.95,395.96 297.57,397.10 298.20,398.22 298.82,399.32 299.44,400.40 300.06,401.46 300.68,402.50 301.30,403.51 301.92,404.50 302.54,405.47 303.16,406.42 303.78,407.35 304.40,408.26 305.02,409.14 305.64,410.01 306.26,410.85 306.88,411.67 307.50,412.47 308.12,413.25 308.74,414.01 309.36,414.75 309.99,415.46 310.61,416.16 311.23,416.83 311.85,417.48 312.47,418.11 313.09,418.72 313.71,419.31 314.33,419.88 314.95,420.43 315.57,420.96 316.19,421.47 316.81,421.95 317.43,422.42 318.05,422.86 318.67,423.29 319.29,423.69 319.91,424.07 320.53,424.43 321.15,424.78 321.77,425.10 322.39,425.40 323.02,425.68 323.64,425.94 324.26,426.18 324.88,426.40 325.50,426.60 326.12,426.78 326.74,426.94 327.36,427.08 327.98,427.20 328.60,427.30 329.22,427.38 329.84,427.45 330.46,427.49 331.08,427.52 331.70,427.53 332.32,427.52 332.94,427.49 333.56,427.45 334.18,427.38 334.81,427.31 335.43,427.21 336.05,427.10 336.67,426.97 337.29,426.83 337.91,426.67 338.53,426.50 339.15,426.31 339.77,426.11 340.39,425.89 341.01,425.66 341.63,425.41 342.25,425.15 342.87,424.88 343.49,424.59 344.11,424.29 344.73,423.98 345.35,423.65 345.97,423.32 346.59,422.97 347.22,422.61 347.84,422.24 348.46,421.85 349.08,421.46 349.70,421.05 350.32,420.64 350.94,420.21 351.56,419.78 352.18,419.33 352.80,418.88 353.42,418.42 354.04,417.94 354.66,417.46 355.28,416.97 355.90,416.48 356.52,415.97 357.14,415.46 357.76,414.94 358.38,414.41 359.00,413.88 359.62,413.34 360.25,412.79 360.87,412.24 361.49,411.68 362.11,411.12 362.73,410.55 363.35,409.97 363.97,409.39 364.59,408.80 365.21,408.21 365.83,407.61 366.45,407.01 367.07,406.40 367.69,405.79 368.31,405.17 368.93,404.54 369.55,403.92 370.17,403.28 370.79,402.64 371.41,401.99 372.03,401.34 372.66,400.69 373.28,400.03 373.90,399.36 374.52,398.69 375.14,398.02 375.76,397.34 376.38,396.65 377.00,395.96 377.62,395.27 378.24,394.57 378.86,393.87 379.48,393.16 380.10,392.45 380.72,391.73 381.34,391.01 381.96,390.28 382.58,389.55 383.20,388.82 383.82,388.08 384.44,387.34 385.07,386.59 385.69,385.84 386.31,385.08 386.93,384.32 387.55,383.56 388.17,382.79 388.79,382.02 389.41,381.24 390.03,380.46 390.65,379.68 391.27,378.89 391.89,378.10 392.51,377.30 393.13,376.51 393.75,375.70 394.37,374.90 394.99,374.09 395.61,373.28 396.23,372.46 396.86,371.64 397.48,370.82 398.10,369.99 398.72,369.16 399.34,368.33 399.96,367.49 400.58,366.65 401.20,365.81 401.82,364.96 402.44,364.11 403.06,363.26 403.68,362.41 404.30,361.55 404.92,360.69 405.54,359.82 406.16,358.96 406.78,358.09 407.40,357.22 408.02,356.34 408.64,355.46 409.26,354.58 409.89,353.70 410.51,352.82 411.13,351.93 411.75,351.04 412.37,350.15 412.99,349.25 413.61,348.36 414.23,347.46 414.85,346.55 415.47,345.65 416.09,344.74 416.71,343.84 417.33,342.93 417.95,342.01 418.57,341.10 419.19,340.18 419.81,339.27 420.43,338.35 421.05,337.42 421.67,336.50 422.30,335.58 422.92,334.65 423.54,333.72 424.16,332.79 424.78,331.86 425.40,330.92 426.02,329.99 426.64,329.05 427.26,328.11 427.88,327.17 428.50,326.23 429.12,325.29 429.74,324.35 430.36,323.40 430.98,322.46 431.60,321.51 432.22,320.56 432.84,319.62 433.46,318.67 434.09,317.71 434.71,316.76 435.33,315.81 435.95,314.86 436.57,313.90 437.19,312.95 437.81,311.99 438.43,311.04 439.05,310.08 439.67,309.12 440.29,308.16 440.91,307.20 441.53,306.24 442.15,305.28 442.77,304.32 443.39,303.36 444.01,302.40 444.63,301.44 445.25,300.48 445.87,299.52 446.50,298.56 447.12,297.60 447.74,296.63 448.36,295.67 448.98,294.71 449.60,293.75 450.22,292.79 450.84,291.83 451.46,290.86 452.08,289.90 452.70,288.94 453.32,287.98 453.94,287.02 454.56,286.06 455.18,285.11 455.80,284.15 456.42,283.20 457.04,282.24 457.66,281.29 458.28,280.34 458.90,279.39 459.53,278.44 460.15,277.49 460.77,276.55 461.39,275.60 462.01,274.66 462.63,273.72 463.25,272.78 463.87,271.84 464.49,270.90 465.11,269.96 465.73,269.03 466.35,268.10 466.97,267.17 467.59,266.24 468.21,265.31 468.83,264.38 469.45,263.46 470.07,262.54 470.69,261.62 471.31,260.70 471.94,259.78 472.56,258.87 473.18,257.96 473.80,257.04 474.42,256.14 475.04,255.23 475.66,254.33 476.28,253.42 476.90,252.52 477.52,251.63 478.14,250.73 478.76,249.84 479.38,248.95 480.00,248.06 480.62,247.18 481.24,246.29 481.86,245.41 482.48,244.53 483.10,243.66 483.72,242.78 484.35,241.91 484.97,241.05 485.59,240.18 486.21,239.32 486.83,238.46 487.45,237.60 488.07,236.75 488.69,235.90 489.31,235.05 489.93,234.20 490.55,233.36 491.17,232.52 491.79,231.68 492.41,230.84 493.03,230.01 493.65,229.18 494.27,228.36 494.89,227.53 495.51,226.71 496.13,225.89 496.76,225.08 497.38,224.26 498.00,223.45 498.62,222.64 499.24,221.84 499.86,221.03 500.48,220.23 501.10,219.44 501.72,218.64 502.34,217.85 502.96,217.06 503.58,216.27 504.20,215.49 504.82,214.70 505.44,213.92 506.06,213.15 506.68,212.37 507.30,211.60 507.92,210.83 508.55,210.06 509.17,209.30 509.79,208.53 510.41,207.77 511.03,207.02 511.65,206.26 512.27,205.51 512.89,204.76 513.51,204.01 514.13,203.26 514.75,202.52 515.37,201.78 515.99,201.04 516.61,200.31 517.23,199.57 517.85,198.84 518.47,198.11 519.09,197.39 519.71,196.66 520.33,195.94 520.96,195.22 521.58,194.50 522.20,193.79 522.82,193.08 523.44,192.37 524.06,191.66 524.68,190.95 525.30,190.25 525.92,189.55 526.54,188.85 527.16,188.15 527.78,187.46 528.40,186.77 529.02,186.08 529.64,185.39 530.26,184.71 530.88,184.02 531.50,183.34 532.12,182.66 532.74,181.99 533.37,181.31 533.99,180.64 534.61,179.97 535.23,179.30 535.85,178.64 536.47,177.97 537.09,177.31 537.71,176.65 538.33,176.00 538.95,175.34 539.57,174.69 540.19,174.04 540.81,173.39 541.43,172.74 542.05,172.10 542.67,171.46 543.29,170.82 543.91,170.18 544.53,169.54 545.15,168.91 545.77,168.28 546.40,167.65 547.02,167.02 547.64,166.39 548.26,165.77 548.88,165.15 549.50,164.53 550.12,163.91 550.74,163.29 551.36,162.68 551.98,162.07 552.60,161.46 553.22,160.85 553.84,160.25 554.46,159.64 555.08,159.04 555.70,158.44 556.32,157.84 556.94,157.25 557.56,156.65 558.18,156.06 558.81,155.47 559.43,154.88 560.05,154.30 560.67,153.71 561.29,153.13 561.91,152.55 562.53,151.97 563.15,151.40 563.77,150.82 564.39,150.25 565.01,149.68 565.63,149.11 566.25,148.54 566.87,147.98 567.49,147.42 568.11,146.86 568.73,146.30 569.35,145.74 569.97,145.18 570.60,144.63 571.22,144.08 571.84,143.53 572.46,142.98 573.08,142.43 573.70,141.89 574.32,141.35 574.94,140.80 575.56,140.27 576.18,139.73 576.80,139.19 577.42,138.66 578.04,138.13 578.66,137.60 579.28,137.07 579.90,136.54 580.52,136.02 581.14,135.50 581.76,134.97 582.38,134.45 583.00,133.94 583.63,133.42 584.25,132.91 584.87,132.39 585.49,131.88 586.11,131.38 586.73,130.87 587.35,130.36 587.97,129.86 588.59,129.36 589.21,128.86 589.83,128.36 590.45,127.86 591.07,127.37 591.69,126.87 592.31,126.38 592.93,125.89 593.55,125.40 594.17,124.92 594.79,124.43 595.41,123.95 596.04,123.47 596.66,122.99 597.28,122.51 597.90,122.03 598.52,121.56 599.14,121.09 599.76,120.61 600.38,120.14 601.00,119.68 601.62,119.21 602.24,118.75 602.86,118.28 603.48,117.82 604.10,117.36 604.72,116.90 605.34,116.45 605.96,115.99 606.58,115.54 607.20,115.09 607.83,114.63 608.45,114.19 609.07,113.74 609.69,113.29 610.31,112.85 610.93,112.41 611.55,111.97 612.17,111.53 612.79,111.09 613.41,110.65 614.03,110.22 614.65,109.79 615.27,109.36 615.89,108.93 616.51,108.50 617.13,108.07 617.75,107.65 618.37,107.22 618.99,106.80 619.61,106.38 620.24,105.96 620.86,105.55 621.48,105.13 622.10,104.72 622.72,104.30 623.34,103.89 623.96,103.48 624.58,103.08 625.20,102.67 625.82,102.26 626.44,101.86 627.06,101.46 627.68,101.06 628.30,100.66 628.92,100.26 629.54,99.87 630.16,99.47 630.78,99.08 631.40,98.69 632.02,98.30 632.64,97.91 633.27,97.52 633.89,97.14 634.51,96.75 635.13,96.37 635.75,95.99 636.37,95.61 636.99,95.23 637.61,94.86 638.23,94.48 638.85,94.11 639.47,93.73 640.09,93.36 640.71,92.99 641.33,92.63 641.95,92.26 642.57,91.89 643.19,91.53 643.81,91.17 644.43,90.81 645.06,90.45 645.68,90.09 646.30,89.73 646.92,89.38 647.54,89.02 648.16,88.67 648.78,88.32 649.40,87.97 650.02,87.62 650.64,87.28 651.26,86.93 651.88,86.59 652.50,86.24 653.12,85.90 653.74,85.56 654.36,85.22 654.98,84.89 655.60,84.55 656.22,84.22 656.84,83.88 657.46,83.55 658.09,83.22 658.71,82.89 659.33,82.57 659.95,82.24 660.57,81.92 661.19,81.59 661.81,81.27 662.43,80.95 663.05,80.63 663.67,80.31 664.29,79.99 664.91,79.68 665.53,79.36 666.15,79.05 666.77,78.74 667.39,78.43 668.01,78.12 668.63,77.81 669.25,77.51 669.88,77.20 670.50,76.90 671.12,76.60 671.74,76.30 672.36,76.00 672.98,75.70 673.60,75.40 674.22,75.10 674.84,74.81 675.46,74.52 676.08,74.22 676.70,73.93 677.32,73.64 677.94,73.35 678.56,73.07 679.18,72.78 679.80,72.50 680.42,72.21 681.04,71.93 681.66,71.65 682.28,71.37 682.91,71.09 683.53,70.82 684.15,70.54 684.77,70.27 685.39,69.99 686.01,69.72 686.63,69.45 687.25,69.18 687.87,68.91 688.49,68.64 689.11,68.38 689.73,68.11 690.35,67.85 690.97,67.59 691.59,67.33 692.21,67.07 692.83,66.81 693.45,66.55 694.07,66.29 694.69,66.04 695.32,65.78 695.94,65.53 696.56,65.28 697.18,65.03 697.80,64.78 698.42,64.53 699.04,64.28 699.66,64.04 700.28,63.79 700.90,63.55 701.52,63.31 702.14,63.07 702.76,62.83 703.38,62.59 704.00,62.35 704.62,62.11 705.24,61.88 705.86,61.64 706.48,61.41 707.11,61.18 707.73,60.95 708.35,60.72 708.97,60.49 709.59,60.26 710.21,60.03 710.83,59.81 711.45,59.58 712.07,59.36 712.69,59.14 713.31,58.92 713.93,58.70 714.55,58.48 715.17,58.26 715.79,58.04 716.41,57.83 717.03,57.61 717.65,57.40 718.27,57.19 718.89,56.98 719.51,56.77 720.14,56.56 720.76,56.35 721.38,56.14 722.00,55.94 722.62,55.73 723.24,55.53 723.86,55.32 724.48,55.12 725.10,54.92 725.72,54.72 726.34,54.52 726.96,54.32 727.58,54.13 728.20,53.93 728.82,53.74 729.44,53.54 730.06,53.35 730.68,53.16 731.30,52.97 731.92,52.78 732.55,52.59 733.17,52.40 733.79,52.21 734.41,52.03 735.03,51.84 735.65,51.66 736.27,51.48 736.89,51.29 737.51,51.11 738.13,50.93 738.75,50.75 739.37,50.58 739.99,50.40 740.61,50.22 741.23,50.05 741.85,49.87 742.47,49.70 743.09,49.53 743.71,49.36 744.34,49.19 744.96,49.02 745.58,48.85 746.20,48.68 746.82,48.51 747.44,48.35 748.06,48.18 748.68,48.02 749.30,47.85 749.92,47.69 750.54,47.53 751.16,47.37 751.78,47.21 752.40,47.05 753.02,46.89 753.64,46.74 754.26,46.58 754.88,46.43 755.50,46.27 756.12,46.12 756.75,45.96 757.37,45.81 757.99,45.66 758.61,45.51 759.23,45.36 759.85,45.21 760.47,45.07 761.09,44.92 761.71,44.77 762.33,44.63 762.95,44.48 763.57,44.34 764.19,44.20 764.81,44.06 765.43,43.91 766.05,43.77 766.67,43.64 767.29,43.50 767.91,43.36 768.53,43.22 769.15,43.09 769.78,42.95 770.40,42.82 771.02,42.68 771.64,42.55 772.26,42.42 772.88,42.29 773.50,42.16 774.12,42.03 774.74,41.90 775.36,41.77 775.98,41.65 776.60,41.52 777.22,41.40 777.84,41.27 778.46,41.15 779.08,41.03 779.70,40.90 780.32,40.78 780.94,40.66 781.57,40.54 782.19,40.42 782.81,40.31 783.43,40.19 784.05,40.07 784.67,39.95 785.29,39.84 785.91,39.73 786.53,39.61 787.15,39.50 787.77,39.39 788.39,39.27 789.01,39.16 789.63,39.05 790.25,38.94 790.87,38.83 791.49,38.73 792.11,38.62 792.73,38.51 793.35,38.41 793.98,38.30 794.60,38.19 795.22,38.09 795.84,37.99 796.46,37.88 797.08,37.78 797.70,37.68 798.32,37.58 798.94,37.48 799.56,37.38 800.18,37.28 800.80,37.18 801.42,37.08 802.04,36.99 802.66,36.89 803.28,36.79 803.90,36.70 804.52,36.60 805.14,36.51 805.76,36.42 806.38,36.32 807.01,36.23 807.63,36.14 808.25,36.05 808.87,35.96 809.49,35.87 810.11,35.78 810.73,35.69 811.35,35.60 811.97,35.51 812.59,35.42 813.21,35.34 813.83,35.25 814.45,35.17 815.07,35.08 815.69,35.00 816.31,34.91 816.93,34.83 817.55,34.74 818.17,34.66 818.79,34.58 819.42,34.50 820.04,34.42 820.66,34.34 821.28,34.25 821.90,34.17 822.52,34.10 823.14,34.02 823.76,33.94 824.38,33.86 825.00,33.78 825.62,33.71 826.24,33.63 826.86,33.55 827.48,33.48 828.10,33.40 828.72,33.33 829.34,33.25 829.96,33.18 830.58,33.10 831.20,33.03 831.83,32.96 832.45,32.89 833.07,32.81 833.69,32.74 834.31,32.67 834.93,32.60 835.55,32.53 836.17,32.46 836.79,32.39 837.41,32.32 838.03,32.25 838.65,32.18 839.27,32.11 839.89,32.05 840.51,31.98 841.13,31.91 841.75,31.84 842.37,31.78 842.99,31.71 843.62,31.65 844.24,31.58 844.86,31.52 845.48,31.45 846.10,31.39 846.72,31.32 847.34,31.26 847.96,31.19 848.58,31.13 849.20,31.07 849.82,31.00 850.44,30.94 851.06,30.88 851.68,30.82 852.30,30.75 852.92,30.69 853.54,30.63 854.16,30.57 854.78,30.51 855.40,30.45 856.02,30.39 856.65,30.33 857.27,30.27 857.89,30.21 858.51,30.15 859.13,30.09 859.75,30.03 860.37,29.97 860.99,29.91 861.61,29.85 862.23,29.80 862.85,29.74 863.47,29.68 864.09,29.62 864.71,29.56 865.33,29.51 865.95,29.45 866.57,29.39 867.19,29.34 867.81,29.28 868.44,29.22 869.06,29.17 869.68,29.11 870.30,29.05 870.92,29.00 871.54,28.94 872.16,28.89 872.78,28.83 873.40,28.77 874.02,28.72 874.64,28.66 875.26,28.61 875.88,28.55 876.50,28.50 877.12,28.44 877.74,28.39 878.36,28.33 878.98,28.28 879.60,28.22 880.22,28.17 880.85,28.12 881.47,28.06 882.09,28.01 882.71,27.95 883.33,27.90 883.95,27.84 884.57,27.79 885.19,27.73 885.81,27.68 886.43,27.63 887.05,27.57 887.67,27.52 888.29,27.46 888.91,27.41 889.53,27.36 890.15,27.30 890.77,27.25 891.39,27.19 892.01,27.14 892.63,27.08 893.25,27.03 893.88,26.98 894.50,26.92 895.12,26.87 895.74,26.81 896.36,26.76 896.98,26.70 897.60,26.65 898.22,26.60 898.84,26.54 899.46,26.49 900.08,26.43 900.70,26.38 901.32,26.32 901.94,26.27 902.56,26.21 903.18,26.16 903.80,26.10 904.42,26.05 905.04,25.99 905.66,25.93 906.29,25.88 906.91,25.82 907.53,25.77 908.15,25.71 908.77,25.65 909.39,25.60 910.01,25.54 910.63,25.48 911.25,25.43 911.87,25.37 912.49,25.31 913.11,25.26 913.73,25.20 914.35,25.14 914.97,25.08 915.59,25.02 916.21,24.97 916.83,24.91 917.45,24.85 918.07,24.79 918.70,24.73 919.32,24.67 919.94,24.61 920.56,24.55 921.18,24.49 921.80,24.43 922.42,24.37 923.04,24.31 923.66,24.25 924.28,24.19 924.90,24.13 925.52,24.07 926.14,24.01 926.76,23.94 927.38,23.88 928.00,23.82 928.62,23.76 929.24,23.69 929.86,23.63 930.49,23.57 931.11,23.50 931.73,23.44 932.35,23.37 932.97,23.31 933.59,23.24 934.21,23.18 934.83,23.11 935.45,23.05 936.07,22.98 936.69,22.91 937.31,22.85 937.93,22.78 938.55,22.71 939.17,22.64 939.79,22.57 940.41,22.50 941.03,22.43 941.65,22.37 942.27,22.30 942.89,22.22 943.52,22.15 944.14,22.08 944.76,22.01 945.38,21.94 946.00,21.87 946.62,21.79 947.24,21.72 947.86,21.65 948.48,21.57 949.10,21.50 949.72,21.43 950.34,21.35 950.96,21.27 951.58,21.20 952.20,21.12" fill="none" stroke="#0000ff" stroke-width="4.4" stroke-dasharray="14.50 16.37" stroke-dashoffset="28.59"/>
<path d="M204.50,13.80 205.12,16.60 205.74,19.87 206.36,23.19 206.98,26.56 207.60,29.99 208.22,33.47 208.84,36.99 209.46,40.55 210.08,44.15 210.71,47.79 211.33,51.46 211.95,55.15 212.57,58.87 213.19,62.62 213.81,66.37 214.43,70.15 215.05,73.93 215.67,77.72 216.29,81.52 216.91,85.32 217.53,89.11 218.15,92.89 218.77,96.67 219.39,100.43 220.01,104.18 220.63,107.90 221.25,111.60 221.87,115.28 222.49,118.92 223.12,122.52 223.74,126.09 224.36,129.62 224.98,133.11 225.60,136.56 226.22,139.97 226.84,143.34 227.46,146.68 228.08,149.98 228.70,153.26 229.32,156.49 229.94,159.70 230.56,162.88 231.18,166.04 231.80,169.16 232.42,172.26 233.04,175.33 233.66,178.38 234.28,181.41 234.90,184.42 235.53,187.41 236.15,190.38 236.77,193.33 237.39,196.27 238.01,199.19 238.63,202.10 239.25,204.99 239.87,207.88 240.49,210.76 241.11,213.62 241.73,216.48 242.35,219.34 242.97,222.18 243.59,225.03 244.21,227.87 244.83,230.72 245.45,233.56 246.07,236.40 246.69,239.25 247.31,242.10 247.94,244.95 248.56,247.81 249.18,250.66 249.80,253.52 250.42,256.37 251.04,259.22 251.66,262.06 252.28,264.91 252.90,267.74 253.52,270.57 254.14,273.39 254.76,276.20 255.38,279.00 256.00,281.79 256.62,284.56 257.24,287.32 257.86,290.07 258.48,292.80 259.10,295.51 259.72,298.20 260.35,300.88 260.97,303.53 261.59,306.16 262.21,308.77 262.83,311.35 263.45,313.91 264.07,316.45 264.69,318.95 265.31,321.43 265.93,323.88 266.55,326.30 267.17,328.69 267.79,331.05 268.41,333.38 269.03,335.69 269.65,337.97 270.27,340.22 270.89,342.45 271.51,344.64 272.13,346.82 272.75,348.96 273.38,351.08 274.00,353.18 274.62,355.24 275.24,357.29 275.86,359.30 276.48,361.30 277.10,363.27 277.72,365.21 278.34,367.13 278.96,369.03 279.58,370.90 280.20,372.75 280.82,374.57 281.44,376.37 282.06,378.15 282.68,379.91 283.30,381.64 283.92,383.34 284.54,385.03 285.16,386.69 285.79,388.32 286.41,389.94 287.03,391.53 287.65,393.09 288.27,394.64 288.89,396.16 289.51,397.65 290.13,399.13 290.75,400.58 291.37,402.00 291.99,403.41 292.61,404.79 293.23,406.15 293.85,407.48 294.47,408.79 295.09,410.08 295.71,411.35 296.33,412.59 296.95,413.81 297.57,415.01 298.20,416.18 298.82,417.34 299.44,418.47 300.06,419.57 300.68,420.66 301.30,421.72 301.92,422.76 302.54,423.77 303.16,424.77 303.78,425.74 304.40,426.69 305.02,427.61 305.64,428.52 306.26,429.40 306.88,430.26 307.50,431.10 308.12,431.91 308.74,432.71 309.36,433.48 309.99,434.23 310.61,434.95 311.23,435.66 311.85,436.34 312.47,437.00 313.09,437.64 313.71,438.26 314.33,438.86 314.95,439.43 315.57,439.98 316.19,440.51 316.81,441.02 317.43,441.51 318.05,441.97 318.67,442.42 319.29,442.84 319.91,443.24 320.53,443.62 321.15,443.98 321.77,444.31 322.39,444.63 323.02,444.92 323.64,445.20 324.26,445.45 324.88,445.68 325.50,445.89 326.12,446.08 326.74,446.24 327.36,446.39 327.98,446.52 328.60,446.62 329.22,446.71 329.84,446.77 330.46,446.82 331.08,446.85 331.70,446.86 332.32,446.85 332.94,446.82 333.56,446.77 334.18,446.71 334.81,446.63 335.43,446.53 336.05,446.41 336.67,446.28 337.29,446.13 337.91,445.96 338.53,445.78 339.15,445.58 339.77,445.37 340.39,445.14 341.01,444.90 341.63,444.64 342.25,444.37 342.87,444.08 343.49,443.78 344.11,443.47 344.73,443.14 345.35,442.80 345.97,442.45 346.59,442.08 347.22,441.71 347.84,441.32 348.46,440.92 349.08,440.50 349.70,440.08 350.32,439.65 350.94,439.20 351.56,438.75 352.18,438.28 352.80,437.81 353.42,437.32 354.04,436.83 354.66,436.32 355.28,435.81 355.90,435.29 356.52,434.76 357.14,434.23 357.76,433.68 358.38,433.13 359.00,432.57 359.62,432.01 360.25,431.43 360.87,430.86 361.49,430.27 362.11,429.68 362.73,429.08 363.35,428.48 363.97,427.87 364.59,427.26 365.21,426.64 365.83,426.01 366.45,425.38 367.07,424.75 367.69,424.10 368.31,423.45 368.93,422.80 369.55,422.14 370.17,421.48 370.79,420.81 371.41,420.13 372.03,419.45 372.66,418.77 373.28,418.07 373.90,417.38 374.52,416.68 375.14,415.97 375.76,415.26 376.38,414.54 377.00,413.82 377.62,413.09 378.24,412.36 378.86,411.62 379.48,410.88 380.10,410.14 380.72,409.39 381.34,408.63 381.96,407.87 382.58,407.11 383.20,406.34 383.82,405.57 384.44,404.79 385.07,404.00 385.69,403.22 386.31,402.43 386.93,401.63 387.55,400.83 388.17,400.03 388.79,399.22 389.41,398.41 390.03,397.59 390.65,396.77 391.27,395.95 391.89,395.12 392.51,394.29 393.13,393.45 393.75,392.61 394.37,391.77 394.99,390.92 395.61,390.07 396.23,389.22 396.86,388.36 397.48,387.50 398.10,386.63 398.72,385.76 399.34,384.89 399.96,384.02 400.58,383.14 401.20,382.25 401.82,381.37 402.44,380.48 403.06,379.59 403.68,378.69 404.30,377.80 404.92,376.89 405.54,375.99 406.16,375.08 406.78,374.17 407.40,373.26 408.02,372.35 408.64,371.43 409.26,370.51 409.89,369.58 410.51,368.66 411.13,367.73 411.75,366.80 412.37,365.86 412.99,364.93 413.61,363.99 414.23,363.05 414.85,362.10 415.47,361.16 416.09,360.21 416.71,359.26 417.33,358.30 417.95,357.35 418.57,356.39 419.19,355.43 419.81,354.47 420.43,353.51 421.05,352.54 421.67,351.58 422.30,350.61 422.92,349.64 423.54,348.67 424.16,347.69 424.78,346.72 425.40,345.74 426.02,344.76 426.64,343.78 427.26,342.80 427.88,341.82 428.50,340.83 429.12,339.85 429.74,338.86 430.36,337.87 430.98,336.88 431.60,335.89 432.22,334.90 432.84,333.90 433.46,332.91 434.09,331.91 434.71,330.92 435.33,329.92 435.95,328.92 436.57,327.92 437.19,326.92 437.81,325.92 438.43,324.92 439.05,323.92 439.67,322.92 440.29,321.91 440.91,320.91 441.53,319.91 442.15,318.90 442.77,317.90 443.39,316.89 444.01,315.89 444.63,314.88 445.25,313.87 445.87,312.87 446.50,311.86 447.12,310.85 447.74,309.85 448.36,308.84 448.98,307.83 449.60,306.83 450.22,305.82 450.84,304.81 451.46,303.81 452.08,302.80 452.70,301.80 453.32,300.79 453.94,299.79 454.56,298.78 455.18,297.78 455.80,296.78 456.42,295.78 457.04,294.78 457.66,293.79 458.28,292.79 458.90,291.80 459.53,290.80 460.15,289.81 460.77,288.82 461.39,287.83 462.01,286.85 462.63,285.86 463.25,284.87 463.87,283.89 464.49,282.91 465.11,281.93 465.73,280.95 466.35,279.98 466.97,279.00 467.59,278.03 468.21,277.06 468.83,276.09 469.45,275.12 470.07,274.16 470.69,273.20 471.31,272.23 471.94,271.27 472.56,270.32 473.18,269.36 473.80,268.41 474.42,267.46 475.04,266.51 475.66,265.56 476.28,264.62 476.90,263.68 477.52,262.74 478.14,261.80 478.76,260.87 479.38,259.94 480.00,259.01 480.62,258.08 481.24,257.15 481.86,256.23 482.48,255.31 483.10,254.40 483.72,253.48 484.35,252.57 484.97,251.66 485.59,250.76 486.21,249.85 486.83,248.95 487.45,248.06 488.07,247.16 488.69,246.27 489.31,245.38 489.93,244.50 490.55,243.62 491.17,242.74 491.79,241.86 492.41,240.99 493.03,240.11 493.65,239.25 494.27,238.38 494.89,237.52 495.51,236.66 496.13,235.80 496.76,234.95 497.38,234.10 498.00,233.25 498.62,232.40 499.24,231.56 499.86,230.72 500.48,229.88 501.10,229.04 501.72,228.21 502.34,227.38 502.96,226.55 503.58,225.73 504.20,224.91 504.82,224.09 505.44,223.27 506.06,222.46 506.68,221.65 507.30,220.84 507.92,220.03 508.55,219.23 509.17,218.43 509.79,217.63 510.41,216.84 511.03,216.04 511.65,215.25 512.27,214.46 512.89,213.68 513.51,212.90 514.13,212.12 514.75,211.34 515.37,210.56 515.99,209.79 516.61,209.02 517.23,208.25 517.85,207.49 518.47,206.72 519.09,205.96 519.71,205.21 520.33,204.45 520.96,203.70 521.58,202.95 522.20,202.20 522.82,201.45 523.44,200.71 524.06,199.97 524.68,199.23 525.30,198.49 525.92,197.76 526.54,197.03 527.16,196.30 527.78,195.57 528.40,194.85 529.02,194.13 529.64,193.41 530.26,192.69 530.88,191.98 531.50,191.26 532.12,190.55 532.74,189.84 533.37,189.14 533.99,188.43 534.61,187.73 535.23,187.03 535.85,186.34 536.47,185.64 537.09,184.95 537.71,184.26 538.33,183.57 538.95,182.89 539.57,182.20 540.19,181.52 540.81,180.84 541.43,180.17 542.05,179.49 542.67,178.82 543.29,178.15 543.91,177.48 544.53,176.82 545.15,176.15 545.77,175.49 546.40,174.83 547.02,174.18 547.64,173.52 548.26,172.87 548.88,172.22 549.50,171.57 550.12,170.92 550.74,170.28 551.36,169.64 551.98,169.00 552.60,168.36 553.22,167.72 553.84,167.09 554.46,166.46 555.08,165.83 555.70,165.20 556.32,164.57 556.94,163.95 557.56,163.33 558.18,162.71 558.81,162.09 559.43,161.48 560.05,160.86 560.67,160.25 561.29,159.64 561.91,159.04 562.53,158.43 563.15,157.83 563.77,157.23 564.39,156.63 565.01,156.03 565.63,155.43 566.25,154.84 566.87,154.25 567.49,153.66 568.11,153.07 568.73,152.49 569.35,151.90 569.97,151.32 570.60,150.74 571.22,150.16 571.84,149.59 572.46,149.01 573.08,148.44 573.70,147.87 574.32,147.30 574.94,146.74 575.56,146.17 576.18,145.61 576.80,145.05 577.42,144.49 578.04,143.94 578.66,143.38 579.28,142.83 579.90,142.28 580.52,141.73 581.14,141.18 581.76,140.64 582.38,140.09 583.00,139.55 583.63,139.01 584.25,138.47 584.87,137.94 585.49,137.40 586.11,136.87 586.73,136.34 587.35,135.81 587.97,135.28 588.59,134.76 589.21,134.23 589.83,133.71 590.45,133.19 591.07,132.67 591.69,132.16 592.31,131.64 592.93,131.13 593.55,130.62 594.17,130.11 594.79,129.60 595.41,129.10 596.04,128.59 596.66,128.09 597.28,127.59 597.90,127.09 598.52,126.59 599.14,126.10 599.76,125.61 600.38,125.11 601.00,124.62 601.62,124.13 602.24,123.65 602.86,123.16 603.48,122.68 604.10,122.20 604.72,121.72 605.34,121.24 605.96,120.76 606.58,120.29 607.20,119.82 607.83,119.35 608.45,118.88 609.07,118.41 609.69,117.94 610.31,117.48 610.93,117.01 611.55,116.55 612.17,116.09 612.79,115.64 613.41,115.18 614.03,114.73 614.65,114.27 615.27,113.82 615.89,113.37 616.51,112.92 617.13,112.48 617.75,112.03 618.37,111.59 618.99,111.15 619.61,110.71 620.24,110.27 620.86,109.83 621.48,109.40 622.10,108.96 622.72,108.53 623.34,108.10 623.96,107.67 624.58,107.25 625.20,106.82 625.82,106.40 626.44,105.98 627.06,105.56 627.68,105.14 628.30,104.72 628.92,104.30 629.54,103.89 630.16,103.48 630.78,103.06 631.40,102.65 632.02,102.25 632.64,101.84 633.27,101.43 633.89,101.03 634.51,100.63 635.13,100.23 635.75,99.83 636.37,99.43 636.99,99.04 637.61,98.64 638.23,98.25 638.85,97.86 639.47,97.47 640.09,97.08 640.71,96.69 641.33,96.31 641.95,95.92 642.57,95.54 643.19,95.16 643.81,94.78 644.43,94.41 645.06,94.03 645.68,93.65 646.30,93.28 646.92,92.91 647.54,92.54 648.16,92.17 648.78,91.80 649.40,91.44 650.02,91.07 650.64,90.71 651.26,90.35 651.88,89.99 652.50,89.63 653.12,89.27 653.74,88.92 654.36,88.56 654.98,88.21 655.60,87.86 656.22,87.51 656.84,87.16 657.46,86.81 658.09,86.47 658.71,86.12 659.33,85.78 659.95,85.44 660.57,85.10 661.19,84.76 661.81,84.42 662.43,84.09 663.05,83.75 663.67,83.42 664.29,83.09 664.91,82.76 665.53,82.43 666.15,82.10 666.77,81.77 667.39,81.45 668.01,81.13 668.63,80.80 669.25,80.48 669.88,80.16 670.50,79.85 671.12,79.53 671.74,79.21 672.36,78.90 672.98,78.59 673.60,78.28 674.22,77.97 674.84,77.66 675.46,77.35 676.08,77.05 676.70,76.74 677.32,76.44 677.94,76.14 678.56,75.84 679.18,75.54 679.80,75.24 680.42,74.94 681.04,74.65 681.66,74.35 682.28,74.06 682.91,73.77 683.53,73.48 684.15,73.19 684.77,72.90 685.39,72.62 686.01,72.33 686.63,72.05 687.25,71.77 687.87,71.49 688.49,71.21 689.11,70.93 689.73,70.65 690.35,70.38 690.97,70.10 691.59,69.83 692.21,69.56 692.83,69.28 693.45,69.01 694.07,68.75 694.69,68.48 695.32,68.21 695.94,67.95 696.56,67.68 697.18,67.42 697.80,67.16 698.42,66.90 699.04,66.64 699.66,66.39 700.28,66.13 700.90,65.87 701.52,65.62 702.14,65.37 702.76,65.12 703.38,64.87 704.00,64.62 704.62,64.37 705.24,64.12 705.86,63.88 706.48,63.63 707.11,63.39 707.73,63.15 708.35,62.91 708.97,62.67 709.59,62.43 710.21,62.19 710.83,61.96 711.45,61.72 712.07,61.49 712.69,61.26 713.31,61.03 713.93,60.80 714.55,60.57 715.17,60.34 715.79,60.11 716.41,59.89 717.03,59.66 717.65,59.44 718.27,59.21 718.89,58.99 719.51,58.77 720.14,58.55 720.76,58.34 721.38,58.12 722.00,57.90 722.62,57.69 723.24,57.48 723.86,57.26 724.48,57.05 725.10,56.84 725.72,56.63 726.34,56.42 726.96,56.22 727.58,56.01 728.20,55.81 728.82,55.60 729.44,55.40 730.06,55.20 730.68,55.00 731.30,54.80 731.92,54.60 732.55,54.40 733.17,54.20 733.79,54.01 734.41,53.81 735.03,53.62 735.65,53.43 736.27,53.24 736.89,53.05 737.51,52.86 738.13,52.67 738.75,52.48 739.37,52.29 739.99,52.11 740.61,51.93 741.23,51.74 741.85,51.56 742.47,51.38 743.09,51.20 743.71,51.02 744.34,50.84 744.96,50.66 745.58,50.49 746.20,50.31 746.82,50.13 747.44,49.96 748.06,49.79 748.68,49.62 749.30,49.45 749.92,49.28 750.54,49.11 751.16,48.94 751.78,48.77 752.40,48.61 753.02,48.44 753.64,48.28 754.26,48.11 754.88,47.95 755.50,47.79 756.12,47.63 756.75,47.47 757.37,47.31 757.99,47.15 758.61,46.99 759.23,46.84 759.85,46.68 760.47,46.53 761.09,46.37 761.71,46.22 762.33,46.07 762.95,45.92 763.57,45.77 764.19,45.62 764.81,45.47 765.43,45.32 766.05,45.17 766.67,45.03 767.29,44.88 767.91,44.74 768.53,44.60 769.15,44.46 769.78,44.31 770.40,44.17 771.02,44.03 771.64,43.90 772.26,43.76 772.88,43.62 773.50,43.49 774.12,43.35 774.74,43.22 775.36,43.08 775.98,42.95 776.60,42.82 777.22,42.69 777.84,42.56 778.46,42.43 779.08,42.30 779.70,42.17 780.32,42.04 780.94,41.92 781.57,41.79 782.19,41.67 782.81,41.54 783.43,41.42 784.05,41.30 784.67,41.18 785.29,41.06 785.91,40.94 786.53,40.82 787.15,40.70 787.77,40.58 788.39,40.46 789.01,40.35 789.63,40.23 790.25,40.12 790.87,40.00 791.49,39.89 792.11,39.78 792.73,39.67 793.35,39.55 793.98,39.44 794.60,39.33 795.22,39.23 795.84,39.12 796.46,39.01 797.08,38.90 797.70,38.80 798.32,38.69 798.94,38.59 799.56,38.48 800.18,38.38 800.80,38.27 801.42,38.17 802.04,38.07 802.66,37.97 803.28,37.87 803.90,37.77 804.52,37.67 805.14,37.57 805.76,37.47 806.38,37.38 807.01,37.28 807.63,37.18 808.25,37.09 808.87,36.99 809.49,36.90 810.11,36.80 810.73,36.71 811.35,36.62 811.97,36.53 812.59,36.43 813.21,36.34 813.83,36.25 814.45,36.16 815.07,36.07 815.69,35.99 816.31,35.90 816.93,35.81 817.55,35.72 818.17,35.64 818.79,35.55 819.42,35.46 820.04,35.38 820.66,35.29 821.28,35.21 821.90,35.13 822.52,35.04 823.14,34.96 823.76,34.88 824.38,34.80 825.00,34.72 825.62,34.64 826.24,34.56 826.86,34.48 827.48,34.40 828.10,34.32 828.72,34.24 829.34,34.16 829.96,34.08 830.58,34.01 831.20,33.93 831.83,33.85 832.45,33.78 833.07,33.70 833.69,33.63 834.31,33.55 834.93,33.48 835.55,33.41 836.17,33.33 836.79,33.26 837.41,33.19 838.03,33.11 838.65,33.04 839.27,32.97 839.89,32.90 840.51,32.83 841.13,32.76 841.75,32.69 842.37,32.62 842.99,32.55 843.62,32.48 844.24,32.41 844.86,32.34 845.48,32.27 846.10,32.21 846.72,32.14 847.34,32.07 847.96,32.01 848.58,31.94 849.20,31.87 849.82,31.81 850.44,31.74 851.06,31.68 851.68,31.61 852.30,31.55 852.92,31.48 853.54,31.42 854.16,31.35 854.78,31.29 855.40,31.23 856.02,31.16 856.65,31.10 857.27,31.04 857.89,30.98 858.51,30.91 859.13,30.85 859.75,30.79 860.37,30.73 860.99,30.67 861.61,30.60 862.23,30.54 862.85,30.48 863.47,30.42 864.09,30.36 864.71,30.30 865.33,30.24 865.95,30.18 866.57,30.12 867.19,30.06 867.81,30.00 868.44,29.94 869.06,29.88 869.68,29.83 870.30,29.77 870.92,29.71 871.54,29.65 872.16,29.59 872.78,29.53 873.40,29.47 874.02,29.42 874.64,29.36 875.26,29.30 875.88,29.24 876.50,29.19 877.12,29.13 877.74,29.07 878.36,29.01 878.98,28.96 879.60,28.90 880.22,28.84 880.85,28.78 881.47,28.73 882.09,28.67 882.71,28.61 883.33,28.56 883.95,28.50 884.57,28.44 885.19,28.39 885.81,28.33 886.43,28.27 887.05,28.22 887.67,28.16 888.29,28.10 888.91,28.05 889.53,27.99 890.15,27.93 890.77,27.88 891.39,27.82 892.01,27.76 892.63,27.71 893.25,27.65 893.88,27.59 894.50,27.54 895.12,27.48 895.74,27.42 896.36,27.36 896.98,27.31 897.60,27.25 898.22,27.19 898.84,27.14 899.46,27.08 900.08,27.02 900.70,26.96 901.32,26.91 901.94,26.85 902.56,26.79 903.18,26.73 903.80,26.68 904.42,26.62 905.04,26.56 905.66,26.50 906.29,26.44 906.91,26.38 907.53,26.33 908.15,26.27 908.77,26.21 909.39,26.15 910.01,26.09 910.63,26.03 911.25,25.97 911.87,25.91 912.49,25.85 913.11,25.79 913.73,25.73 914.35,25.67 914.97,25.61 915.59,25.55 916.21,25.49 916.83,25.43 917.45,25.37 918.07,25.30 918.70,25.24 919.32,25.18 919.94,25.12 920.56,25.06 921.18,24.99 921.80,24.93 922.42,24.87 923.04,24.80 923.66,24.74 924.28,24.68 924.90,24.61 925.52,24.55 926.14,24.48 926.76,24.42 927.38,24.35 928.00,24.29 928.62,24.22 929.24,24.16 929.86,24.09 930.49,24.02 931.11,23.96 931.73,23.89 932.35,23.82 932.97,23.75 933.59,23.68 934.21,23.62 934.83,23.55 935.45,23.48 936.07,23.41 936.69,23.34 937.31,23.27 937.93,23.20 938.55,23.13 939.17,23.05 939.79,22.98 940.41,22.91 941.03,22.84 941.65,22.77 942.27,22.69 942.89,22.62 943.52,22.54 944.14,22.47 944.76,22.40 945.38,22.32 946.00,22.24 946.62,22.17 947.24,22.09 947.86,22.01 948.48,21.94 949.10,21.86 949.72,21.78 950.34,21.70 950.96,21.62 951.58,21.54 952.20,21.46" fill="none" stroke="#0000ff" stroke-width="4.4" stroke-dasharray="17.50 19.67" stroke-dashoffset="35.87"/>
<path d="M204.50,13.80 205.12,16.71 205.74,20.10 206.36,23.56 206.98,27.07 207.60,30.63 208.22,34.25 208.84,37.92 209.46,41.62 210.08,45.37 210.71,49.16 211.33,52.98 211.95,56.83 212.57,60.71 213.19,64.61 213.81,68.53 214.43,72.47 215.05,76.42 215.67,80.38 216.29,84.34 216.91,88.31 217.53,92.28 218.15,96.24 218.77,100.20 219.39,104.14 220.01,108.07 220.63,111.98 221.25,115.87 221.87,119.73 222.49,123.56 223.12,127.35 223.74,131.11 224.36,134.83 224.98,138.51 225.60,142.15 226.22,145.75 226.84,149.31 227.46,152.84 228.08,156.32 228.70,159.78 229.32,163.20 229.94,166.59 230.56,169.95 231.18,173.28 231.80,176.58 232.42,179.85 233.04,183.10 233.66,186.32 234.28,189.52 234.90,192.70 235.53,195.86 236.15,198.99 236.77,202.11 237.39,205.21 238.01,208.30 238.63,211.37 239.25,214.43 239.87,217.47 240.49,220.50 241.11,223.53 241.73,226.55 242.35,229.55 242.97,232.56 243.59,235.56 244.21,238.55 244.83,241.55 245.45,244.54 246.07,247.53 246.69,250.53 247.31,253.53 247.94,256.53 248.56,259.54 249.18,262.55 249.80,265.56 250.42,268.57 251.04,271.58 251.66,274.58 252.28,277.58 252.90,280.58 253.52,283.57 254.14,286.55 254.76,289.53 255.38,292.49 256.00,295.45 256.62,298.39 257.24,301.32 257.86,304.23 258.48,307.13 259.10,310.01 259.72,312.88 260.35,315.73 260.97,318.55 261.59,321.36 262.21,324.14 262.83,326.90 263.45,329.63 264.07,332.34 264.69,335.01 265.31,337.67 265.93,340.29 266.55,342.88 267.17,345.44 267.79,347.97 268.41,350.47 269.03,352.95 269.65,355.39 270.27,357.80 270.89,360.19 271.51,362.55 272.13,364.88 272.75,367.18 273.38,369.46 274.00,371.70 274.62,373.92 275.24,376.12 275.86,378.28 276.48,380.43 277.10,382.54 277.72,384.63 278.34,386.69 278.96,388.73 279.58,390.74 280.20,392.73 280.82,394.69 281.44,396.63 282.06,398.55 282.68,400.43 283.30,402.30 283.92,404.14 284.54,405.95 285.16,407.74 285.79,409.50 286.41,411.25 287.03,412.96 287.65,414.65 288.27,416.32 288.89,417.96 289.51,419.58 290.13,421.17 290.75,422.74 291.37,424.28 291.99,425.80 292.61,427.30 293.23,428.77 293.85,430.22 294.47,431.64 295.09,433.04 295.71,434.41 296.33,435.76 296.95,437.09 297.57,438.39 298.20,439.67 298.82,440.92 299.44,442.15 300.06,443.36 300.68,444.54 301.30,445.70 301.92,446.83 302.54,447.94 303.16,449.03 303.78,450.09 304.40,451.13 305.02,452.15 305.64,453.14 306.26,454.11 306.88,455.05 307.50,455.97 308.12,456.87 308.74,457.75 309.36,458.60 309.99,459.42 310.61,460.23 311.23,461.01 311.85,461.77 312.47,462.50 313.09,463.21 313.71,463.90 314.33,464.56 314.95,465.21 315.57,465.83 316.19,466.42 316.81,466.99 317.43,467.54 318.05,468.07 318.67,468.57 319.29,469.06 319.91,469.51 320.53,469.95 321.15,470.36 321.77,470.75 322.39,471.12 323.02,471.47 323.64,471.79 324.26,472.09 324.88,472.37 325.50,472.62 326.12,472.85 326.74,473.06 327.36,473.25 327.98,473.42 328.60,473.56 329.22,473.68 329.84,473.79 330.46,473.87 331.08,473.93 331.70,473.96 332.32,473.98 332.94,473.98 333.56,473.96 334.18,473.92 334.81,473.86 335.43,473.79 336.05,473.69 336.67,473.58 337.29,473.44 337.91,473.29 338.53,473.13 339.15,472.94 339.77,472.74 340.39,472.52 341.01,472.29 341.63,472.04 342.25,471.77 342.87,471.49 343.49,471.20 344.11,470.89 344.73,470.56 345.35,470.22 345.97,469.87 346.59,469.50 347.22,469.12 347.84,468.73 348.46,468.32 349.08,467.90 349.70,467.47 350.32,467.03 350.94,466.57 351.56,466.10 352.18,465.63 352.80,465.14 353.42,464.64 354.04,464.13 354.66,463.61 355.28,463.08 355.90,462.54 356.52,462.00 357.14,461.44 357.76,460.87 358.38,460.30 359.00,459.72 359.62,459.13 360.25,458.53 360.87,457.93 361.49,457.32 362.11,456.70 362.73,456.08 363.35,455.45 363.97,454.81 364.59,454.17 365.21,453.52 365.83,452.87 366.45,452.21 367.07,451.54 367.69,450.87 368.31,450.19 368.93,449.50 369.55,448.81 370.17,448.11 370.79,447.41 371.41,446.70 372.03,445.99 372.66,445.27 373.28,444.54 373.90,443.81 374.52,443.08 375.14,442.33 375.76,441.59 376.38,440.83 377.00,440.08 377.62,439.31 378.24,438.54 378.86,437.77 379.48,436.99 380.10,436.21 380.72,435.42 381.34,434.62 381.96,433.82 382.58,433.02 383.20,432.21 383.82,431.40 384.44,430.58 385.07,429.75 385.69,428.93 386.31,428.09 386.93,427.25 387.55,426.41 388.17,425.57 388.79,424.71 389.41,423.86 390.03,423.00 390.65,422.13 391.27,421.27 391.89,420.39 392.51,419.52 393.13,418.63 393.75,417.75 394.37,416.86 394.99,415.97 395.61,415.07 396.23,414.17 396.86,413.26 397.48,412.35 398.10,411.44 398.72,410.52 399.34,409.60 399.96,408.68 400.58,407.75 401.20,406.82 401.82,405.88 402.44,404.94 403.06,404.00 403.68,403.06 404.30,402.11 404.92,401.16 405.54,400.20 406.16,399.24 406.78,398.28 407.40,397.32 408.02,396.35 408.64,395.38 409.26,394.40 409.89,393.43 410.51,392.45 411.13,391.47 411.75,390.48 412.37,389.49 412.99,388.50 413.61,387.51 414.23,386.51 414.85,385.51 415.47,384.51 416.09,383.51 416.71,382.50 417.33,381.49 417.95,380.48 418.57,379.47 419.19,378.46 419.81,377.44 420.43,376.42 421.05,375.40 421.67,374.37 422.30,373.35 422.92,372.32 423.54,371.29 424.16,370.26 424.78,369.22 425.40,368.19 426.02,367.15 426.64,366.11 427.26,365.07 427.88,364.03 428.50,362.99 429.12,361.94 429.74,360.89 430.36,359.85 430.98,358.80 431.60,357.75 432.22,356.69 432.84,355.64 433.46,354.59 434.09,353.53 434.71,352.47 435.33,351.42 435.95,350.36 436.57,349.30 437.19,348.24 437.81,347.18 438.43,346.11 439.05,345.05 439.67,343.99 440.29,342.92 440.91,341.86 441.53,340.79 442.15,339.72 442.77,338.66 443.39,337.59 444.01,336.52 444.63,335.45 445.25,334.38 445.87,333.31 446.50,332.25 447.12,331.18 447.74,330.11 448.36,329.04 448.98,327.97 449.60,326.90 450.22,325.83 450.84,324.76 451.46,323.69 452.08,322.62 452.70,321.55 453.32,320.48 453.94,319.41 454.56,318.35 455.18,317.28 455.80,316.22 456.42,315.16 457.04,314.09 457.66,313.03 458.28,311.97 458.90,310.92 459.53,309.86 460.15,308.81 460.77,307.75 461.39,306.70 462.01,305.65 462.63,304.60 463.25,303.55 463.87,302.51 464.49,301.46 465.11,300.42 465.73,299.38 466.35,298.34 466.97,297.30 467.59,296.27 468.21,295.23 468.83,294.20 469.45,293.17 470.07,292.14 470.69,291.12 471.31,290.09 471.94,289.07 472.56,288.05 473.18,287.03 473.80,286.02 474.42,285.01 475.04,283.99 475.66,282.99 476.28,281.98 476.90,280.98 477.52,279.97 478.14,278.98 478.76,277.98 479.38,276.99 480.00,275.99 480.62,275.01 481.24,274.02 481.86,273.04 482.48,272.06 483.10,271.08 483.72,270.10 484.35,269.13 484.97,268.16 485.59,267.19 486.21,266.23 486.83,265.27 487.45,264.31 488.07,263.36 488.69,262.41 489.31,261.46 489.93,260.51 490.55,259.57 491.17,258.63 491.79,257.70 492.41,256.76 493.03,255.83 493.65,254.91 494.27,253.98 494.89,253.06 495.51,252.14 496.13,251.23 496.76,250.32 497.38,249.41 498.00,248.50 498.62,247.60 499.24,246.70 499.86,245.80 500.48,244.91 501.10,244.01 501.72,243.12 502.34,242.24 502.96,241.36 503.58,240.48 504.20,239.60 504.82,238.72 505.44,237.85 506.06,236.98 506.68,236.12 507.30,235.25 507.92,234.39 508.55,233.54 509.17,232.68 509.79,231.83 510.41,230.98 511.03,230.13 511.65,229.29 512.27,228.45 512.89,227.61 513.51,226.77 514.13,225.94 514.75,225.11 515.37,224.28 515.99,223.46 516.61,222.63 517.23,221.81 517.85,221.00 518.47,220.18 519.09,219.37 519.71,218.56 520.33,217.75 520.96,216.95 521.58,216.15 522.20,215.35 522.82,214.55 523.44,213.76 524.06,212.97 524.68,212.18 525.30,211.39 525.92,210.61 526.54,209.83 527.16,209.05 527.78,208.27 528.40,207.50 529.02,206.73 529.64,205.96 530.26,205.19 530.88,204.43 531.50,203.67 532.12,202.91 532.74,202.15 533.37,201.40 533.99,200.65 534.61,199.90 535.23,199.15 535.85,198.41 536.47,197.67 537.09,196.93 537.71,196.19 538.33,195.46 538.95,194.72 539.57,193.99 540.19,193.27 540.81,192.54 541.43,191.82 542.05,191.10 542.67,190.38 543.29,189.66 543.91,188.95 544.53,188.24 545.15,187.53 545.77,186.82 546.40,186.12 547.02,185.42 547.64,184.72 548.26,184.02 548.88,183.32 549.50,182.63 550.12,181.94 550.74,181.25 551.36,180.57 551.98,179.88 552.60,179.20 553.22,178.52 553.84,177.84 554.46,177.17 555.08,176.50 555.70,175.83 556.32,175.16 556.94,174.49 557.56,173.83 558.18,173.17 558.81,172.51 559.43,171.85 560.05,171.19 560.67,170.54 561.29,169.89 561.91,169.24 562.53,168.59 563.15,167.95 563.77,167.31 564.39,166.67 565.01,166.03 565.63,165.39 566.25,164.76 566.87,164.13 567.49,163.50 568.11,162.87 568.73,162.24 569.35,161.62 569.97,161.00 570.60,160.38 571.22,159.76 571.84,159.15 572.46,158.53 573.08,157.92 573.70,157.31 574.32,156.71 574.94,156.10 575.56,155.50 576.18,154.90 576.80,154.30 577.42,153.70 578.04,153.11 578.66,152.51 579.28,151.92 579.90,151.33 580.52,150.75 581.14,150.16 581.76,149.58 582.38,149.00 583.00,148.42 583.63,147.84 584.25,147.27 584.87,146.69 585.49,146.12 586.11,145.55 586.73,144.98 587.35,144.42 587.97,143.86 588.59,143.29 589.21,142.73 589.83,142.18 590.45,141.62 591.07,141.07 591.69,140.51 592.31,139.96 592.93,139.42 593.55,138.87 594.17,138.33 594.79,137.78 595.41,137.24 596.04,136.70 596.66,136.17 597.28,135.63 597.90,135.10 598.52,134.57 599.14,134.04 599.76,133.51 600.38,132.98 601.00,132.46 601.62,131.94 602.24,131.42 602.86,130.90 603.48,130.38 604.10,129.87 604.72,129.36 605.34,128.84 605.96,128.34 606.58,127.83 607.20,127.32 607.83,126.82 608.45,126.32 609.07,125.82 609.69,125.32 610.31,124.82 610.93,124.33 611.55,123.83 612.17,123.34 612.79,122.85 613.41,122.36 614.03,121.88 614.65,121.39 615.27,120.91 615.89,120.43 616.51,119.95 617.13,119.47 617.75,119.00 618.37,118.52 618.99,118.05 619.61,117.58 620.24,117.11 620.86,116.64 621.48,116.18 622.10,115.72 622.72,115.25 623.34,114.79 623.96,114.34 624.58,113.88 625.20,113.42 625.82,112.97 626.44,112.52 627.06,112.07 627.68,111.62 628.30,111.17 628.92,110.73 629.54,110.29 630.16,109.84 630.78,109.40 631.40,108.97 632.02,108.53 632.64,108.09 633.27,107.66 633.89,107.23 634.51,106.80 635.13,106.37 635.75,105.94 636.37,105.52 636.99,105.10 637.61,104.67 638.23,104.25 638.85,103.83 639.47,103.42 640.09,103.00 640.71,102.59 641.33,102.18 641.95,101.77 642.57,101.36 643.19,100.95 643.81,100.54 644.43,100.14 645.06,99.74 645.68,99.34 646.30,98.94 646.92,98.54 647.54,98.14 648.16,97.75 648.78,97.35 649.40,96.96 650.02,96.57 650.64,96.18 651.26,95.80 651.88,95.41 652.50,95.03 653.12,94.65 653.74,94.27 654.36,93.89 654.98,93.51 655.60,93.13 656.22,92.76 656.84,92.38 657.46,92.01 658.09,91.64 658.71,91.27 659.33,90.91 659.95,90.54 660.57,90.18 661.19,89.82 661.81,89.45 662.43,89.09 663.05,88.74 663.67,88.38 664.29,88.03 664.91,87.67 665.53,87.32 666.15,86.97 666.77,86.62 667.39,86.27 668.01,85.93 668.63,85.58 669.25,85.24 669.88,84.90 670.50,84.56 671.12,84.22 671.74,83.88 672.36,83.54 672.98,83.21 673.60,82.88 674.22,82.54 674.84,82.21 675.46,81.88 676.08,81.56 676.70,81.23 677.32,80.91 677.94,80.58 678.56,80.26 679.18,79.94 679.80,79.62 680.42,79.31 681.04,78.99 681.66,78.67 682.28,78.36 682.91,78.05 683.53,77.74 684.15,77.43 684.77,77.12 685.39,76.81 686.01,76.51 686.63,76.21 687.25,75.90 687.87,75.60 688.49,75.30 689.11,75.00 689.73,74.71 690.35,74.41 690.97,74.12 691.59,73.83 692.21,73.53 692.83,73.24 693.45,72.95 694.07,72.67 694.69,72.38 695.32,72.10 695.94,71.81 696.56,71.53 697.18,71.25 697.80,70.97 698.42,70.69 699.04,70.41 699.66,70.14 700.28,69.86 700.90,69.59 701.52,69.32 702.14,69.05 702.76,68.78 703.38,68.51 704.00,68.24 704.62,67.98 705.24,67.71 705.86,67.45 706.48,67.19 707.11,66.93 707.73,66.67 708.35,66.41 708.97,66.16 709.59,65.90 710.21,65.65 710.83,65.39 711.45,65.14 712.07,64.89 712.69,64.64 713.31,64.39 713.93,64.15 714.55,63.90 715.17,63.66 715.79,63.41 716.41,63.17 717.03,62.93 717.65,62.69 718.27,62.45 718.89,62.21 719.51,61.98 720.14,61.74 720.76,61.51 721.38,61.28 722.00,61.05 722.62,60.82 723.24,60.59 723.86,60.36 724.48,60.13 725.10,59.91 725.72,59.68 726.34,59.46 726.96,59.24 727.58,59.02 728.20,58.80 728.82,58.58 729.44,58.36 730.06,58.14 730.68,57.93 731.30,57.72 731.92,57.50 732.55,57.29 733.17,57.08 733.79,56.87 734.41,56.66 735.03,56.45 735.65,56.25 736.27,56.04 736.89,55.84 737.51,55.63 738.13,55.43 738.75,55.23 739.37,55.03 739.99,54.83 740.61,54.63 741.23,54.44 741.85,54.24 742.47,54.05 743.09,53.85 743.71,53.66 744.34,53.47 744.96,53.28 745.58,53.09 746.20,52.90 746.82,52.71 747.44,52.53 748.06,52.34 748.68,52.16 749.30,51.97 749.92,51.79 750.54,51.61 751.16,51.43 751.78,51.25 752.40,51.07 753.02,50.90 753.64,50.72 754.26,50.54 754.88,50.37 755.50,50.20 756.12,50.02 756.75,49.85 757.37,49.68 757.99,49.51 758.61,49.34 759.23,49.17 759.85,49.01 760.47,48.84 761.09,48.68 761.71,48.51 762.33,48.35 762.95,48.19 763.57,48.03 764.19,47.87 764.81,47.71 765.43,47.55 766.05,47.39 766.67,47.24 767.29,47.08 767.91,46.93 768.53,46.77 769.15,46.62 769.78,46.47 770.40,46.32 771.02,46.17 771.64,46.02 772.26,45.87 772.88,45.72 773.50,45.58 774.12,45.43 774.74,45.29 775.36,45.15 775.98,45.00 776.60,44.86 777.22,44.72 777.84,44.58 778.46,44.44 779.08,44.30 779.70,44.17 780.32,44.03 780.94,43.90 781.57,43.76 782.19,43.63 782.81,43.49 783.43,43.36 784.05,43.23 784.67,43.10 785.29,42.97 785.91,42.84 786.53,42.71 787.15,42.59 787.77,42.46 788.39,42.34 789.01,42.21 789.63,42.09 790.25,41.96 790.87,41.84 791.49,41.72 792.11,41.60 792.73,41.48 793.35,41.36 793.98,41.24 794.60,41.12 795.22,41.01 795.84,40.89 796.46,40.77 797.08,40.66 797.70,40.54 798.32,40.43 798.94,40.32 799.56,40.21 800.18,40.10 800.80,39.98 801.42,39.87 802.04,39.77 802.66,39.66 803.28,39.55 803.90,39.44 804.52,39.34 805.14,39.23 805.76,39.12 806.38,39.02 807.01,38.92 807.63,38.81 808.25,38.71 808.87,38.61 809.49,38.51 810.11,38.41 810.73,38.31 811.35,38.21 811.97,38.11 812.59,38.01 813.21,37.91 813.83,37.82 814.45,37.72 815.07,37.62 815.69,37.53 816.31,37.43 816.93,37.34 817.55,37.25 818.17,37.15 818.79,37.06 819.42,36.97 820.04,36.88 820.66,36.79 821.28,36.70 821.90,36.61 822.52,36.52 823.14,36.43 823.76,36.34 824.38,36.25 825.00,36.17 825.62,36.08 826.24,35.99 826.86,35.91 827.48,35.82 828.10,35.74 828.72,35.65 829.34,35.57 829.96,35.49 830.58,35.40 831.20,35.32 831.83,35.24 832.45,35.16 833.07,35.08 833.69,35.00 834.31,34.92 834.93,34.84 835.55,34.76 836.17,34.68 836.79,34.60 837.41,34.53 838.03,34.45 838.65,34.37 839.27,34.29 839.89,34.22 840.51,34.14 841.13,34.07 841.75,33.99 842.37,33.92 842.99,33.84 843.62,33.77 844.24,33.70 844.86,33.62 845.48,33.55 846.10,33.48 846.72,33.40 847.34,33.33 847.96,33.26 848.58,33.19 849.20,33.12 849.82,33.05 850.44,32.98 851.06,32.91 851.68,32.84 852.30,32.77 852.92,32.70 853.54,32.63 854.16,32.56 854.78,32.49 855.40,32.43 856.02,32.36 856.65,32.29 857.27,32.22 857.89,32.16 858.51,32.09 859.13,32.03 859.75,31.96 860.37,31.89 860.99,31.83 861.61,31.76 862.23,31.70 862.85,31.63 863.47,31.57 864.09,31.50 864.71,31.44 865.33,31.37 865.95,31.31 866.57,31.25 867.19,31.18 867.81,31.12 868.44,31.06 869.06,30.99 869.68,30.93 870.30,30.87 870.92,30.81 871.54,30.74 872.16,30.68 872.78,30.62 873.40,30.56 874.02,30.49 874.64,30.43 875.26,30.37 875.88,30.31 876.50,30.25 877.12,30.19 877.74,30.13 878.36,30.06 878.98,30.00 879.60,29.94 880.22,29.88 880.85,29.82 881.47,29.76 882.09,29.70 882.71,29.64 883.33,29.58 883.95,29.52 884.57,29.46 885.19,29.40 885.81,29.34 886.43,29.28 887.05,29.22 887.67,29.16 888.29,29.10 888.91,29.04 889.53,28.97 890.15,28.91 890.77,28.85 891.39,28.79 892.01,28.73 892.63,28.67 893.25,28.61 893.88,28.55 894.50,28.49 895.12,28.43 895.74,28.37 896.36,28.31 896.98,28.25 897.60,28.19 898.22,28.13 898.84,28.07 899.46,28.01 900.08,27.95 900.70,27.89 901.32,27.83 901.94,27.76 902.56,27.70 903.18,27.64 903.80,27.58 904.42,27.52 905.04,27.46 905.66,27.40 906.29,27.33 906.91,27.27 907.53,27.21 908.15,27.15 908.77,27.09 909.39,27.02 910.01,26.96 910.63,26.90 911.25,26.84 911.87,26.77 912.49,26.71 913.11,26.65 913.73,26.58 914.35,26.52 914.97,26.45 915.59,26.39 916.21,26.32 916.83,26.26 917.45,26.20 918.07,26.13 918.70,26.07 919.32,26.00 919.94,25.93 920.56,25.87 921.18,25.80 921.80,25.74 922.42,25.67 923.04,25.60 923.66,25.53 924.28,25.47 924.90,25.40 925.52,25.33 926.14,25.26 926.76,25.19 927.38,25.13 928.00,25.06 928.62,24.99 929.24,24.92 929.86,24.85 930.49,24.78 931.11,24.71 931.73,24.64 932.35,24.56 932.97,24.49 933.59,24.42 934.21,24.35 934.83,24.28 935.45,24.20 936.07,24.13 936.69,24.06 937.31,23.98 937.93,23.91 938.55,23.83 939.17,23.76 939.79,23.68 940.41,23.60 941.03,23.53 941.65,23.45 942.27,23.37 942.89,23.30 943.52,23.22 944.14,23.14 944.76,23.06 945.38,22.98 946.00,22.90 946.62,22.82 947.24,22.74 947.86,22.66 948.48,22.58 949.10,22.50 949.72,22.42 950.34,22.33 950.96,22.25 951.58,22.17 952.20,22.08" fill="none" stroke="#0000ff" stroke-width="4.4" stroke-dasharray="16.50 20.42" stroke-dashoffset="32.85"/>
</g>
<path d="M190,3.3H966.2 M188.75,5V484 M190,484.6H966.2 M964.9,2.1V485.8" stroke="#000" stroke-width="2.5" fill="none"/>
<path d="M190,13.8H200.3" stroke="#000" stroke-width="2.4" fill="none"/>
<path d="M204.50,484.70V473.70 M204.50,3.40V14.40 M229.32,484.70V479.20 M229.32,3.40V8.90 M254.14,484.70V479.20 M254.14,3.40V8.90 M278.96,484.70V479.20 M278.96,3.40V8.90 M303.78,484.70V479.20 M303.78,3.40V8.90 M328.60,484.70V473.70 M328.60,3.40V14.40 M353.42,484.70V479.20 M353.42,3.40V8.90 M378.24,484.70V479.20 M378.24,3.40V8.90 M403.06,484.70V479.20 M403.06,3.40V8.90 M427.88,484.70V479.20 M427.88,3.40V8.90 M452.70,484.70V473.70 M452.70,3.40V14.40 M477.52,484.70V479.20 M477.52,3.40V8.90 M502.34,484.70V479.20 M502.34,3.40V8.90 M527.16,484.70V479.20 M527.16,3.40V8.90 M551.98,484.70V479.20 M551.98,3.40V8.90 M576.80,484.70V473.70 M576.80,3.40V14.40 M601.62,484.70V479.20 M601.62,3.40V8.90 M626.44,484.70V479.20 M626.44,3.40V8.90 M651.26,484.70V479.20 M651.26,3.40V8.90 M676.08,484.70V479.20 M676.08,3.40V8.90 M700.90,484.70V473.70 M700.90,3.40V14.40 M725.72,484.70V479.20 M725.72,3.40V8.90 M750.54,484.70V479.20 M750.54,3.40V8.90 M775.36,484.70V479.20 M775.36,3.40V8.90 M800.18,484.70V479.20 M800.18,3.40V8.90 M825.00,484.70V473.70 M825.00,3.40V14.40 M849.82,484.70V479.20 M849.82,3.40V8.90 M874.64,484.70V479.20 M874.64,3.40V8.90 M899.46,484.70V479.20 M899.46,3.40V8.90 M924.28,484.70V479.20 M924.28,3.40V8.90 M949.10,484.70V473.70 M949.10,3.40V14.40 M188.80,13.80H196.80 M965.00,13.80H957.00 M188.80,31.18H193.80 M965.00,31.18H960.00 M188.80,48.56H193.80 M965.00,48.56H960.00 M188.80,65.94H193.80 M965.00,65.94H960.00 M188.80,83.32H193.80 M965.00,83.32H960.00 M188.80,100.70H196.80 M965.00,100.70H957.00 M188.80,118.08H193.80 M965.00,118.08H960.00 M188.80,135.46H193.80 M965.00,135.46H960.00 M188.80,152.84H193.80 M965.00,152.84H960.00 M188.80,170.22H193.80 M965.00,170.22H960.00 M188.80,187.60H196.80 M965.00,187.60H957.00 M188.80,204.98H193.80 M965.00,204.98H960.00 M188.80,222.36H193.80 M965.00,222.36H960.00 M188.80,239.74H193.80 M965.00,239.74H960.00 M188.80,257.12H193.80 M965.00,257.12H960.00 M188.80,274.50H196.80 M965.00,274.50H957.00 M188.80,291.88H193.80 M965.00,291.88H960.00 M188.80,309.26H193.80 M965.00,309.26H960.00 M188.80,326.64H193.80 M965.00,326.64H960.00 M188.80,344.02H193.80 M965.00,344.02H960.00 M188.80,361.40H196.80 M965.00,361.40H957.00 M188.80,378.78H193.80 M965.00,378.78H960.00 M188.80,396.16H193.80 M965.00,396.16H960.00 M188.80,413.54H193.80 M965.00,413.54H960.00 M188.80,430.92H193.80 M965.00,430.92H960.00 M188.80,448.30H196.80 M965.00,448.30H957.00 M188.80,465.68H193.80 M965.00,465.68H960.00 M188.80,483.06H193.80 M965.00,483.06H960.00" stroke="#000" stroke-width="2.4" fill="none"/>
<text x="179.5" y="22.2" text-anchor="end" class="t">0.000</text><text x="179.5" y="109.1" text-anchor="end" class="t">0.005</text><rect x="101.5" y="101.8" width="15" height="1.9" fill="#000"/><text x="179.5" y="196.0" text-anchor="end" class="t">0.010</text><rect x="101.5" y="188.7" width="15" height="1.9" fill="#000"/><text x="179.5" y="282.9" text-anchor="end" class="t">0.015</text><rect x="101.5" y="275.6" width="15" height="1.9" fill="#000"/><text x="179.5" y="369.8" text-anchor="end" class="t">0.020</text><rect x="101.5" y="362.5" width="15" height="1.9" fill="#000"/><text x="179.5" y="456.7" text-anchor="end" class="t">0.025</text><rect x="101.5" y="449.4" width="15" height="1.9" fill="#000"/>
<text x="202.0" y="514" text-anchor="middle" class="t">0</text><text x="326.8" y="514" text-anchor="middle" class="t">1</text><text x="451.0" y="514" text-anchor="middle" class="t">2</text><text x="573.0" y="514" text-anchor="middle" class="t">3</text><text x="698.0" y="514" text-anchor="middle" class="t">4</text><text x="823.0" y="514" text-anchor="middle" class="t">5</text><text x="946.7" y="514" text-anchor="middle" class="t">6</text>
<text x="0" y="0" class="s" font-size="26" font-style="italic" transform="translate(566.5,561) scale(1.15,1)">η</text>
<text x="0" y="246.7" class="s" font-size="47.5" font-style="italic">T</text>
<text x="21.5" y="259" class="s" font-size="29">1</text>
<text x="39" y="246.7" class="s" font-size="47.5">(</text>
<text x="0" y="0" class="s" font-size="45" font-style="italic" transform="translate(54.5,246.7) scale(1.2,1)">η</text>
<text x="80" y="246.7" class="s" font-size="47.5">)</text>
<rect x="651" y="369" width="21" height="5.5" fill="#7070f2"/><rect x="651" y="374.5" width="21" height="2" fill="#d8d8fb"/><rect x="653.5" y="370.5" width="4" height="4" fill="#0000e6"/><rect x="666.5" y="370.5" width="4" height="4" fill="#0000e6"/>
<text x="697.5" y="381.2" class="s" font-size="26" letter-spacing="1.2">M<tspan stroke="#000" stroke-width="0.9">=</tspan>0,</text>
<circle cx="725.4" cy="354.5" r="1.6" fill="#000"/>
<rect x="794" y="369" width="21" height="2.6" fill="#ffd0d0"/><rect x="794" y="371.6" width="5.8" height="5.3" fill="#f52a2a"/><rect x="801" y="371.6" width="7.6" height="5.3" fill="#f54545"/><rect x="809.9" y="371.6" width="5.1" height="5.3" fill="#f51010"/>
<text x="843" y="381.7" class="s" font-size="26" letter-spacing="0.6">M<tspan stroke="#000" stroke-width="0.9">=</tspan>0.3</text>
<circle cx="850.3" cy="354.3" r="1.6" fill="#000"/>
<path d="M704.4,437.8 L703.3,433.9 A13.6,12.4 0 1 1 718.7,433.9 L717.6,437.8" fill="none" stroke="#000" stroke-width="2.3"/>
<path d="M701.2,432.3 A13.6,12.4 0 0 1 699.3,417.5 M720.8,432.3 A13.6,12.4 0 0 0 722.7,417.5" fill="none" stroke="#000" stroke-width="3.4"/>
<path d="M695.8,443.3H705.2V436.2 M716.9,436.2V443.3H726.3 M696.3,443.5V439.6 M725.8,443.5V439.6" fill="none" stroke="#000" stroke-width="2.1"/>
<text x="726" y="457" class="s" font-size="30">2</text>
<text x="749" y="439" class="s" font-size="28" letter-spacing="0.2"><tspan stroke="#000" stroke-width="0.9">=</tspan> 0.2, 0.4, 0.6</text>
<path d="M472.2,165L475.6,372" stroke="#888" stroke-opacity="0.55" stroke-width="2.6" fill="none"/>
<path d="M475.3,132.3L472.6,378.5" stroke="#000" stroke-width="2.2" fill="none"/>
<path d="M469.5,371.5H476.5" stroke="#777" stroke-opacity="0.6" stroke-width="2.2" fill="none"/>
</svg>
</body></html>
